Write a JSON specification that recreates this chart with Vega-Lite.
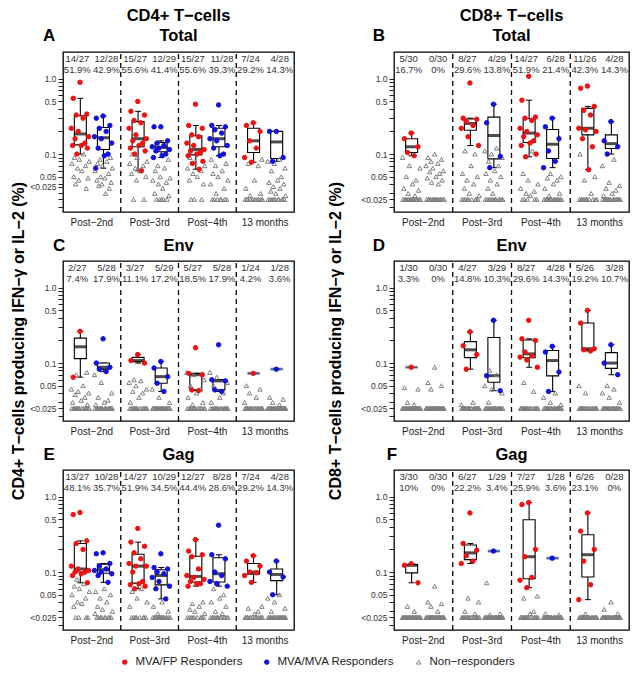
{
"$schema":"https://vega.github.io/schema/vega-lite/v6.json",
"background":"white",
"padding":{"left":10,"top":7,"right":4,"bottom":4},
"datasets":{
"L":[
{"p":"A","g":"1F","t":"14/27|51.9%"},{"p":"A","g":"1M","t":"12/28|42.9%"},{"p":"A","g":"2F","t":"15/27|55.6%"},{"p":"A","g":"2M","t":"12/29|41.4%"},{"p":"A","g":"3F","t":"15/27|55.6%"},{"p":"A","g":"3M","t":"11/28|39.3%"},{"p":"A","g":"4F","t":"7/24|29.2%"},{"p":"A","g":"4M","t":"4/28|14.3%"},
{"p":"B","g":"1F","t":"5/30|16.7%"},{"p":"B","g":"1M","t":"0/30|0%"},{"p":"B","g":"2F","t":"8/27|29.6%"},{"p":"B","g":"2M","t":"4/29|13.8%"},{"p":"B","g":"3F","t":"14/27|51.9%"},{"p":"B","g":"3M","t":"6/28|21.4%"},{"p":"B","g":"4F","t":"11/26|42.3%"},{"p":"B","g":"4M","t":"4/28|14.3%"},
{"p":"C","g":"1F","t":"2/27|7.4%"},{"p":"C","g":"1M","t":"5/28|17.9%"},{"p":"C","g":"2F","t":"3/27|11.1%"},{"p":"C","g":"2M","t":"5/29|17.2%"},{"p":"C","g":"3F","t":"5/27|18.5%"},{"p":"C","g":"3M","t":"5/28|17.9%"},{"p":"C","g":"4F","t":"1/24|4.2%"},{"p":"C","g":"4M","t":"1/28|3.6%"},
{"p":"D","g":"1F","t":"1/30|3.3%"},{"p":"D","g":"1M","t":"0/30|0%"},{"p":"D","g":"2F","t":"4/27|14.8%"},{"p":"D","g":"2M","t":"3/29|10.3%"},{"p":"D","g":"3F","t":"8/27|29.6%"},{"p":"D","g":"3M","t":"4/28|14.3%"},{"p":"D","g":"4F","t":"5/26|19.2%"},{"p":"D","g":"4M","t":"3/28|10.7%"},
{"p":"E","g":"1F","t":"13/27|48.1%"},{"p":"E","g":"1M","t":"10/28|35.7%"},{"p":"E","g":"2F","t":"14/27|51.9%"},{"p":"E","g":"2M","t":"10/29|34.5%"},{"p":"E","g":"3F","t":"12/27|44.4%"},{"p":"E","g":"3M","t":"8/28|28.6%"},{"p":"E","g":"4F","t":"7/24|29.2%"},{"p":"E","g":"4M","t":"4/28|14.3%"},
{"p":"F","g":"1F","t":"3/30|10%"},{"p":"F","g":"1M","t":"0/30|0%"},{"p":"F","g":"2F","t":"6/27|22.2%"},{"p":"F","g":"2M","t":"1/29|3.4%"},{"p":"F","g":"3F","t":"7/27|25.9%"},{"p":"F","g":"3M","t":"1/28|3.6%"},{"p":"F","g":"4F","t":"6/26|23.1%"},{"p":"F","g":"4M","t":"0/28|0%"}
],
"A":[
{"g":"1F","k":"F","v":0.9,"i":15},{"g":"1F","k":"F","v":0.55,"i":4},{"g":"1F","k":"F","v":0.34,"i":26},{"g":"1F","k":"F","v":0.33,"i":9},{"g":"1F","k":"F","v":0.3,"i":20},{"g":"1F","k":"F","v":0.22,"i":1},{"g":"1F","k":"F","v":0.2,"i":12},{"g":"1F","k":"F","v":0.17,"i":29},{"g":"1F","k":"F","v":0.16,"i":7},{"g":"1F","k":"F","v":0.14,"i":23},{"g":"1F","k":"F","v":0.13,"i":17},{"g":"1F","k":"F","v":0.13,"i":3},{"g":"1F","k":"F","v":0.12,"i":27},{"g":"1F","k":"F","v":0.1,"i":10},
{"g":"1F","k":"N","v":0.1,"i":21},{"g":"1F","k":"N","v":0.09,"i":6},{"g":"1F","k":"N","v":0.085,"i":14},{"g":"1F","k":"N","v":0.08,"i":30},{"g":"1F","k":"N","v":0.075,"i":2},{"g":"1F","k":"N","v":0.07,"i":24},{"g":"1F","k":"N","v":0.065,"i":11},{"g":"1F","k":"N","v":0.06,"i":18},{"g":"1F","k":"N","v":0.05,"i":5},{"g":"1F","k":"N","v":0.048,"i":28},{"g":"1F","k":"N","v":0.045,"i":13},{"g":"1F","k":"N","v":0.04,"i":8},{"g":"1F","k":"N","v":0.035,"i":25},
{"g":"1M","k":"M","v":0.32,"i":15},{"g":"1M","k":"M","v":0.3,"i":4},{"g":"1M","k":"M","v":0.24,"i":26},{"g":"1M","k":"M","v":0.22,"i":9},{"g":"1M","k":"M","v":0.2,"i":20},{"g":"1M","k":"M","v":0.17,"i":1},{"g":"1M","k":"M","v":0.16,"i":12},{"g":"1M","k":"M","v":0.14,"i":29},{"g":"1M","k":"M","v":0.12,"i":7},{"g":"1M","k":"M","v":0.1,"i":23},{"g":"1M","k":"M","v":0.095,"i":17},{"g":"1M","k":"M","v":0.065,"i":3},
{"g":"1M","k":"N","v":0.09,"i":27},{"g":"1M","k":"N","v":0.085,"i":10},{"g":"1M","k":"N","v":0.08,"i":21},{"g":"1M","k":"N","v":0.075,"i":6},{"g":"1M","k":"N","v":0.07,"i":14},{"g":"1M","k":"N","v":0.065,"i":30},{"g":"1M","k":"N","v":0.06,"i":2},{"g":"1M","k":"N","v":0.055,"i":24},{"g":"1M","k":"N","v":0.05,"i":11},{"g":"1M","k":"N","v":0.048,"i":18},{"g":"1M","k":"N","v":0.045,"i":5},{"g":"1M","k":"N","v":0.042,"i":28},{"g":"1M","k":"N","v":0.04,"i":13},{"g":"1M","k":"N","v":0.038,"i":8},{"g":"1M","k":"N","v":0.035,"i":25},{"g":"1M","k":"N","v":0.03,"i":19},
{"g":"2F","k":"F","v":0.5,"i":15},{"g":"2F","k":"F","v":0.37,"i":4},{"g":"2F","k":"F","v":0.33,"i":26},{"g":"2F","k":"F","v":0.28,"i":9},{"g":"2F","k":"F","v":0.26,"i":20},{"g":"2F","k":"F","v":0.22,"i":1},{"g":"2F","k":"F","v":0.18,"i":12},{"g":"2F","k":"F","v":0.16,"i":29},{"g":"2F","k":"F","v":0.15,"i":7},{"g":"2F","k":"F","v":0.14,"i":23},{"g":"2F","k":"F","v":0.13,"i":17},{"g":"2F","k":"F","v":0.12,"i":3},{"g":"2F","k":"F","v":0.11,"i":27},{"g":"2F","k":"F","v":0.1,"i":10},{"g":"2F","k":"F","v":0.06,"i":21},
{"g":"2F","k":"N","v":0.1,"i":6},{"g":"2F","k":"N","v":0.09,"i":14},{"g":"2F","k":"N","v":0.08,"i":30},{"g":"2F","k":"N","v":0.075,"i":2},{"g":"2F","k":"N","v":0.07,"i":24},{"g":"2F","k":"N","v":0.065,"i":11},{"g":"2F","k":"N","v":0.06,"i":18},{"g":"2F","k":"N","v":0.055,"i":5},{"g":"2F","k":"N","v":0.05,"i":28},{"g":"2F","k":"N","v":0.045,"i":13},{"g":"2F","k":"N","v":0.025,"i":8},{"g":"2F","k":"N","v":0.025,"i":25},
{"g":"2M","k":"M","v":0.23,"i":15},{"g":"2M","k":"M","v":0.23,"i":4},{"g":"2M","k":"M","v":0.15,"i":26},{"g":"2M","k":"M","v":0.14,"i":9},{"g":"2M","k":"M","v":0.13,"i":20},{"g":"2M","k":"M","v":0.125,"i":1},{"g":"2M","k":"M","v":0.12,"i":12},{"g":"2M","k":"M","v":0.115,"i":29},{"g":"2M","k":"M","v":0.11,"i":7},{"g":"2M","k":"M","v":0.1,"i":23},{"g":"2M","k":"M","v":0.095,"i":17},{"g":"2M","k":"M","v":0.09,"i":3},
{"g":"2M","k":"N","v":0.085,"i":27},{"g":"2M","k":"N","v":0.07,"i":10},{"g":"2M","k":"N","v":0.065,"i":21},{"g":"2M","k":"N","v":0.06,"i":6},{"g":"2M","k":"N","v":0.05,"i":14},{"g":"2M","k":"N","v":0.048,"i":30},{"g":"2M","k":"N","v":0.045,"i":2},{"g":"2M","k":"N","v":0.042,"i":24},{"g":"2M","k":"N","v":0.04,"i":11},{"g":"2M","k":"N","v":0.035,"i":18},{"g":"2M","k":"N","v":0.03,"i":5},{"g":"2M","k":"N","v":0.028,"i":28},{"g":"2M","k":"N","v":0.025,"i":13},{"g":"2M","k":"N","v":0.025,"i":8},{"g":"2M","k":"N","v":0.025,"i":25},{"g":"2M","k":"N","v":0.025,"i":19},{"g":"2M","k":"N","v":0.025,"i":16},
{"g":"3F","k":"F","v":0.46,"i":15},{"g":"3F","k":"F","v":0.24,"i":4},{"g":"3F","k":"F","v":0.22,"i":26},{"g":"3F","k":"F","v":0.18,"i":9},{"g":"3F","k":"F","v":0.17,"i":20},{"g":"3F","k":"F","v":0.14,"i":1},{"g":"3F","k":"F","v":0.13,"i":12},{"g":"3F","k":"F","v":0.115,"i":29},{"g":"3F","k":"F","v":0.11,"i":7},{"g":"3F","k":"F","v":0.105,"i":23},{"g":"3F","k":"F","v":0.1,"i":17},{"g":"3F","k":"F","v":0.095,"i":3},{"g":"3F","k":"F","v":0.08,"i":27},{"g":"3F","k":"F","v":0.075,"i":10},{"g":"3F","k":"F","v":0.063,"i":21},
{"g":"3F","k":"N","v":0.09,"i":6},{"g":"3F","k":"N","v":0.08,"i":14},{"g":"3F","k":"N","v":0.07,"i":30},{"g":"3F","k":"N","v":0.065,"i":2},{"g":"3F","k":"N","v":0.06,"i":24},{"g":"3F","k":"N","v":0.055,"i":11},{"g":"3F","k":"N","v":0.05,"i":18},{"g":"3F","k":"N","v":0.045,"i":5},{"g":"3F","k":"N","v":0.04,"i":28},{"g":"3F","k":"N","v":0.025,"i":13},{"g":"3F","k":"N","v":0.025,"i":8},{"g":"3F","k":"N","v":0.025,"i":25},
{"g":"3M","k":"M","v":0.45,"i":15},{"g":"3M","k":"M","v":0.24,"i":4},{"g":"3M","k":"M","v":0.23,"i":26},{"g":"3M","k":"M","v":0.21,"i":9},{"g":"3M","k":"M","v":0.19,"i":20},{"g":"3M","k":"M","v":0.16,"i":1},{"g":"3M","k":"M","v":0.15,"i":12},{"g":"3M","k":"M","v":0.13,"i":29},{"g":"3M","k":"M","v":0.12,"i":7},{"g":"3M","k":"M","v":0.1,"i":23},{"g":"3M","k":"M","v":0.095,"i":17},
{"g":"3M","k":"N","v":0.085,"i":3},{"g":"3M","k":"N","v":0.075,"i":27},{"g":"3M","k":"N","v":0.07,"i":10},{"g":"3M","k":"N","v":0.06,"i":21},{"g":"3M","k":"N","v":0.055,"i":6},{"g":"3M","k":"N","v":0.05,"i":14},{"g":"3M","k":"N","v":0.045,"i":30},{"g":"3M","k":"N","v":0.04,"i":2},{"g":"3M","k":"N","v":0.035,"i":24},{"g":"3M","k":"N","v":0.03,"i":11},{"g":"3M","k":"N","v":0.025,"i":18},{"g":"3M","k":"N","v":0.025,"i":5},{"g":"3M","k":"N","v":0.025,"i":28},{"g":"3M","k":"N","v":0.025,"i":13},{"g":"3M","k":"N","v":0.025,"i":8},{"g":"3M","k":"N","v":0.025,"i":25},{"g":"3M","k":"N","v":0.025,"i":19},
{"g":"4F","k":"F","v":0.26,"i":15},{"g":"4F","k":"F","v":0.24,"i":4},{"g":"4F","k":"F","v":0.2,"i":26},{"g":"4F","k":"F","v":0.15,"i":9},{"g":"4F","k":"F","v":0.12,"i":20},{"g":"4F","k":"F","v":0.09,"i":1},{"g":"4F","k":"F","v":0.078,"i":12},
{"g":"4F","k":"N","v":0.085,"i":29},{"g":"4F","k":"N","v":0.075,"i":7},{"g":"4F","k":"N","v":0.07,"i":23},{"g":"4F","k":"N","v":0.045,"i":17},{"g":"4F","k":"N","v":0.035,"i":3},{"g":"4F","k":"N","v":0.03,"i":27},{"g":"4F","k":"N","v":0.028,"i":10},{"g":"4F","k":"N","v":0.025,"i":21},{"g":"4F","k":"N","v":0.025,"i":6},{"g":"4F","k":"N","v":0.025,"i":14},{"g":"4F","k":"N","v":0.025,"i":30},{"g":"4F","k":"N","v":0.025,"i":2},{"g":"4F","k":"N","v":0.025,"i":24},{"g":"4F","k":"N","v":0.025,"i":11},{"g":"4F","k":"N","v":0.025,"i":18},{"g":"4F","k":"N","v":0.025,"i":5},{"g":"4F","k":"N","v":0.025,"i":28},
{"g":"4M","k":"M","v":0.2,"i":15},{"g":"4M","k":"M","v":0.2,"i":4},{"g":"4M","k":"M","v":0.09,"i":26},{"g":"4M","k":"M","v":0.08,"i":9},
{"g":"4M","k":"N","v":0.085,"i":20},{"g":"4M","k":"N","v":0.08,"i":1},{"g":"4M","k":"N","v":0.075,"i":12},{"g":"4M","k":"N","v":0.065,"i":29},{"g":"4M","k":"N","v":0.06,"i":7},{"g":"4M","k":"N","v":0.05,"i":23},{"g":"4M","k":"N","v":0.045,"i":17},{"g":"4M","k":"N","v":0.042,"i":3},{"g":"4M","k":"N","v":0.04,"i":27},{"g":"4M","k":"N","v":0.037,"i":10},{"g":"4M","k":"N","v":0.035,"i":21},{"g":"4M","k":"N","v":0.032,"i":6},{"g":"4M","k":"N","v":0.03,"i":14},{"g":"4M","k":"N","v":0.028,"i":30},{"g":"4M","k":"N","v":0.025,"i":2},{"g":"4M","k":"N","v":0.025,"i":24},{"g":"4M","k":"N","v":0.025,"i":11},{"g":"4M","k":"N","v":0.025,"i":18},{"g":"4M","k":"N","v":0.025,"i":5},{"g":"4M","k":"N","v":0.025,"i":28},{"g":"4M","k":"N","v":0.025,"i":13},{"g":"4M","k":"N","v":0.025,"i":8},{"g":"4M","k":"N","v":0.025,"i":25},{"g":"4M","k":"N","v":0.025,"i":19}
],
"B":[
{"g":"1F","k":"F","v":0.19,"i":15},{"g":"1F","k":"F","v":0.16,"i":4},{"g":"1F","k":"F","v":0.125,"i":26},{"g":"1F","k":"F","v":0.105,"i":9},{"g":"1F","k":"F","v":0.095,"i":20},
{"g":"1F","k":"N","v":0.09,"i":1},{"g":"1F","k":"N","v":0.07,"i":12},{"g":"1F","k":"N","v":0.065,"i":29},{"g":"1F","k":"N","v":0.05,"i":7},{"g":"1F","k":"N","v":0.045,"i":23},{"g":"1F","k":"N","v":0.04,"i":17},{"g":"1F","k":"N","v":0.035,"i":3},{"g":"1F","k":"N","v":0.033,"i":27},{"g":"1F","k":"N","v":0.03,"i":10},{"g":"1F","k":"N","v":0.028,"i":21},{"g":"1F","k":"N","v":0.025,"i":6},{"g":"1F","k":"N","v":0.025,"i":14},{"g":"1F","k":"N","v":0.025,"i":30},{"g":"1F","k":"N","v":0.025,"i":2},{"g":"1F","k":"N","v":0.025,"i":24},{"g":"1F","k":"N","v":0.025,"i":11},{"g":"1F","k":"N","v":0.025,"i":18},{"g":"1F","k":"N","v":0.025,"i":5},{"g":"1F","k":"N","v":0.025,"i":28},{"g":"1F","k":"N","v":0.025,"i":13},{"g":"1F","k":"N","v":0.025,"i":8},{"g":"1F","k":"N","v":0.025,"i":25},{"g":"1F","k":"N","v":0.025,"i":19},{"g":"1F","k":"N","v":0.025,"i":16},{"g":"1F","k":"N","v":0.025,"i":22},
{"g":"1M","k":"N","v":0.1,"i":15},{"g":"1M","k":"N","v":0.09,"i":4},{"g":"1M","k":"N","v":0.085,"i":26},{"g":"1M","k":"N","v":0.08,"i":9},{"g":"1M","k":"N","v":0.075,"i":20},{"g":"1M","k":"N","v":0.07,"i":1},{"g":"1M","k":"N","v":0.065,"i":12},{"g":"1M","k":"N","v":0.06,"i":29},{"g":"1M","k":"N","v":0.058,"i":7},{"g":"1M","k":"N","v":0.055,"i":23},{"g":"1M","k":"N","v":0.05,"i":17},{"g":"1M","k":"N","v":0.048,"i":3},{"g":"1M","k":"N","v":0.045,"i":27},{"g":"1M","k":"N","v":0.042,"i":10},{"g":"1M","k":"N","v":0.04,"i":21},{"g":"1M","k":"N","v":0.025,"i":6},{"g":"1M","k":"N","v":0.025,"i":14},{"g":"1M","k":"N","v":0.025,"i":30},{"g":"1M","k":"N","v":0.025,"i":2},{"g":"1M","k":"N","v":0.025,"i":24},{"g":"1M","k":"N","v":0.025,"i":11},{"g":"1M","k":"N","v":0.025,"i":18},{"g":"1M","k":"N","v":0.025,"i":5},{"g":"1M","k":"N","v":0.025,"i":28},{"g":"1M","k":"N","v":0.025,"i":13},{"g":"1M","k":"N","v":0.025,"i":8},{"g":"1M","k":"N","v":0.025,"i":25},{"g":"1M","k":"N","v":0.025,"i":19},{"g":"1M","k":"N","v":0.025,"i":16},{"g":"1M","k":"N","v":0.025,"i":22},
{"g":"2F","k":"F","v":0.88,"i":15},{"g":"2F","k":"F","v":0.3,"i":4},{"g":"2F","k":"F","v":0.29,"i":26},{"g":"2F","k":"F","v":0.27,"i":9},{"g":"2F","k":"F","v":0.24,"i":20},{"g":"2F","k":"F","v":0.22,"i":1},{"g":"2F","k":"F","v":0.17,"i":12},{"g":"2F","k":"F","v":0.13,"i":29},
{"g":"2F","k":"N","v":0.11,"i":7},{"g":"2F","k":"N","v":0.1,"i":23},{"g":"2F","k":"N","v":0.07,"i":17},{"g":"2F","k":"N","v":0.055,"i":3},{"g":"2F","k":"N","v":0.05,"i":27},{"g":"2F","k":"N","v":0.045,"i":10},{"g":"2F","k":"N","v":0.04,"i":21},{"g":"2F","k":"N","v":0.035,"i":6},{"g":"2F","k":"N","v":0.03,"i":14},{"g":"2F","k":"N","v":0.028,"i":30},{"g":"2F","k":"N","v":0.025,"i":2},{"g":"2F","k":"N","v":0.025,"i":24},{"g":"2F","k":"N","v":0.025,"i":11},{"g":"2F","k":"N","v":0.025,"i":18},{"g":"2F","k":"N","v":0.025,"i":5},{"g":"2F","k":"N","v":0.025,"i":28},{"g":"2F","k":"N","v":0.025,"i":13},{"g":"2F","k":"N","v":0.025,"i":8},{"g":"2F","k":"N","v":0.025,"i":25},
{"g":"2M","k":"M","v":0.46,"i":15},{"g":"2M","k":"M","v":0.26,"i":4},{"g":"2M","k":"M","v":0.093,"i":26},{"g":"2M","k":"M","v":0.066,"i":9},
{"g":"2M","k":"N","v":0.12,"i":20},{"g":"2M","k":"N","v":0.11,"i":1},{"g":"2M","k":"N","v":0.1,"i":12},{"g":"2M","k":"N","v":0.09,"i":29},{"g":"2M","k":"N","v":0.08,"i":7},{"g":"2M","k":"N","v":0.07,"i":23},{"g":"2M","k":"N","v":0.06,"i":17},{"g":"2M","k":"N","v":0.055,"i":3},{"g":"2M","k":"N","v":0.05,"i":27},{"g":"2M","k":"N","v":0.045,"i":10},{"g":"2M","k":"N","v":0.04,"i":21},{"g":"2M","k":"N","v":0.035,"i":6},{"g":"2M","k":"N","v":0.03,"i":14},{"g":"2M","k":"N","v":0.025,"i":30},{"g":"2M","k":"N","v":0.025,"i":2},{"g":"2M","k":"N","v":0.025,"i":24},{"g":"2M","k":"N","v":0.025,"i":11},{"g":"2M","k":"N","v":0.025,"i":18},{"g":"2M","k":"N","v":0.025,"i":5},{"g":"2M","k":"N","v":0.025,"i":28},{"g":"2M","k":"N","v":0.025,"i":13},{"g":"2M","k":"N","v":0.025,"i":8},{"g":"2M","k":"N","v":0.025,"i":25},{"g":"2M","k":"N","v":0.025,"i":19},{"g":"2M","k":"N","v":0.025,"i":16},
{"g":"3F","k":"F","v":1.08,"i":15},{"g":"3F","k":"F","v":0.52,"i":4},{"g":"3F","k":"F","v":0.31,"i":26},{"g":"3F","k":"F","v":0.3,"i":9},{"g":"3F","k":"F","v":0.28,"i":20},{"g":"3F","k":"F","v":0.22,"i":1},{"g":"3F","k":"F","v":0.2,"i":12},{"g":"3F","k":"F","v":0.18,"i":29},{"g":"3F","k":"F","v":0.17,"i":7},{"g":"3F","k":"F","v":0.15,"i":23},{"g":"3F","k":"F","v":0.14,"i":17},{"g":"3F","k":"F","v":0.13,"i":3},{"g":"3F","k":"F","v":0.1,"i":27},{"g":"3F","k":"F","v":0.092,"i":10},
{"g":"3F","k":"N","v":0.11,"i":21},{"g":"3F","k":"N","v":0.055,"i":6},{"g":"3F","k":"N","v":0.045,"i":14},{"g":"3F","k":"N","v":0.04,"i":30},{"g":"3F","k":"N","v":0.035,"i":2},{"g":"3F","k":"N","v":0.032,"i":24},{"g":"3F","k":"N","v":0.03,"i":11},{"g":"3F","k":"N","v":0.028,"i":18},{"g":"3F","k":"N","v":0.025,"i":5},{"g":"3F","k":"N","v":0.025,"i":28},{"g":"3F","k":"N","v":0.025,"i":13},{"g":"3F","k":"N","v":0.025,"i":8},{"g":"3F","k":"N","v":0.025,"i":25},
{"g":"3M","k":"M","v":0.3,"i":15},{"g":"3M","k":"M","v":0.23,"i":4},{"g":"3M","k":"M","v":0.16,"i":26},{"g":"3M","k":"M","v":0.11,"i":9},{"g":"3M","k":"M","v":0.08,"i":20},{"g":"3M","k":"M","v":0.066,"i":1},
{"g":"3M","k":"N","v":0.055,"i":12},{"g":"3M","k":"N","v":0.05,"i":29},{"g":"3M","k":"N","v":0.048,"i":7},{"g":"3M","k":"N","v":0.045,"i":23},{"g":"3M","k":"N","v":0.04,"i":17},{"g":"3M","k":"N","v":0.035,"i":3},{"g":"3M","k":"N","v":0.03,"i":27},{"g":"3M","k":"N","v":0.028,"i":10},{"g":"3M","k":"N","v":0.025,"i":21},{"g":"3M","k":"N","v":0.025,"i":6},{"g":"3M","k":"N","v":0.025,"i":14},{"g":"3M","k":"N","v":0.025,"i":30},{"g":"3M","k":"N","v":0.025,"i":2},{"g":"3M","k":"N","v":0.025,"i":24},{"g":"3M","k":"N","v":0.025,"i":11},{"g":"3M","k":"N","v":0.025,"i":18},{"g":"3M","k":"N","v":0.025,"i":5},{"g":"3M","k":"N","v":0.025,"i":28},{"g":"3M","k":"N","v":0.025,"i":13},{"g":"3M","k":"N","v":0.025,"i":8},{"g":"3M","k":"N","v":0.025,"i":25},{"g":"3M","k":"N","v":0.025,"i":19},
{"g":"4F","k":"F","v":0.8,"i":15},{"g":"4F","k":"F","v":0.75,"i":4},{"g":"4F","k":"F","v":0.43,"i":26},{"g":"4F","k":"F","v":0.38,"i":9},{"g":"4F","k":"F","v":0.33,"i":20},{"g":"4F","k":"F","v":0.22,"i":1},{"g":"4F","k":"F","v":0.21,"i":12},{"g":"4F","k":"F","v":0.2,"i":29},{"g":"4F","k":"F","v":0.16,"i":7},{"g":"4F","k":"F","v":0.125,"i":23},{"g":"4F","k":"F","v":0.062,"i":17},
{"g":"4F","k":"N","v":0.1,"i":3},{"g":"4F","k":"N","v":0.05,"i":27},{"g":"4F","k":"N","v":0.045,"i":10},{"g":"4F","k":"N","v":0.03,"i":21},{"g":"4F","k":"N","v":0.025,"i":6},{"g":"4F","k":"N","v":0.025,"i":14},{"g":"4F","k":"N","v":0.025,"i":30},{"g":"4F","k":"N","v":0.025,"i":2},{"g":"4F","k":"N","v":0.025,"i":24},{"g":"4F","k":"N","v":0.025,"i":11},{"g":"4F","k":"N","v":0.025,"i":18},{"g":"4F","k":"N","v":0.025,"i":5},{"g":"4F","k":"N","v":0.025,"i":28},{"g":"4F","k":"N","v":0.025,"i":13},{"g":"4F","k":"N","v":0.025,"i":8},
{"g":"4M","k":"M","v":0.27,"i":15},{"g":"4M","k":"M","v":0.15,"i":4},{"g":"4M","k":"M","v":0.125,"i":26},{"g":"4M","k":"M","v":0.1,"i":9},
{"g":"4M","k":"N","v":0.085,"i":20},{"g":"4M","k":"N","v":0.07,"i":1},{"g":"4M","k":"N","v":0.042,"i":12},{"g":"4M","k":"N","v":0.038,"i":29},{"g":"4M","k":"N","v":0.035,"i":7},{"g":"4M","k":"N","v":0.033,"i":23},{"g":"4M","k":"N","v":0.03,"i":17},{"g":"4M","k":"N","v":0.028,"i":3},{"g":"4M","k":"N","v":0.025,"i":27},{"g":"4M","k":"N","v":0.025,"i":10},{"g":"4M","k":"N","v":0.025,"i":21},{"g":"4M","k":"N","v":0.025,"i":6},{"g":"4M","k":"N","v":0.025,"i":14},{"g":"4M","k":"N","v":0.025,"i":30},{"g":"4M","k":"N","v":0.025,"i":2},{"g":"4M","k":"N","v":0.025,"i":24},{"g":"4M","k":"N","v":0.025,"i":11},{"g":"4M","k":"N","v":0.025,"i":18},{"g":"4M","k":"N","v":0.025,"i":5},{"g":"4M","k":"N","v":0.025,"i":28},{"g":"4M","k":"N","v":0.025,"i":13},{"g":"4M","k":"N","v":0.025,"i":8},{"g":"4M","k":"N","v":0.025,"i":25},{"g":"4M","k":"N","v":0.025,"i":19}
],
"C":[
{"g":"1F","k":"F","v":0.264,"i":15},{"g":"1F","k":"F","v":0.065,"i":4},
{"g":"1F","k":"N","v":0.075,"i":26},{"g":"1F","k":"N","v":0.07,"i":9},{"g":"1F","k":"N","v":0.05,"i":20},{"g":"1F","k":"N","v":0.045,"i":1},{"g":"1F","k":"N","v":0.042,"i":12},{"g":"1F","k":"N","v":0.04,"i":29},{"g":"1F","k":"N","v":0.038,"i":7},{"g":"1F","k":"N","v":0.035,"i":23},{"g":"1F","k":"N","v":0.032,"i":17},{"g":"1F","k":"N","v":0.03,"i":3},{"g":"1F","k":"N","v":0.028,"i":27},{"g":"1F","k":"N","v":0.025,"i":10},{"g":"1F","k":"N","v":0.025,"i":21},{"g":"1F","k":"N","v":0.025,"i":6},{"g":"1F","k":"N","v":0.025,"i":14},{"g":"1F","k":"N","v":0.025,"i":30},{"g":"1F","k":"N","v":0.025,"i":2},{"g":"1F","k":"N","v":0.025,"i":24},{"g":"1F","k":"N","v":0.025,"i":11},{"g":"1F","k":"N","v":0.025,"i":18},{"g":"1F","k":"N","v":0.025,"i":5},{"g":"1F","k":"N","v":0.025,"i":28},{"g":"1F","k":"N","v":0.025,"i":13},{"g":"1F","k":"N","v":0.025,"i":8},{"g":"1F","k":"N","v":0.025,"i":25},
{"g":"1M","k":"M","v":0.21,"i":15},{"g":"1M","k":"M","v":0.1,"i":4},{"g":"1M","k":"M","v":0.088,"i":26},{"g":"1M","k":"M","v":0.083,"i":9},{"g":"1M","k":"M","v":0.077,"i":20},
{"g":"1M","k":"N","v":0.07,"i":1},{"g":"1M","k":"N","v":0.055,"i":12},{"g":"1M","k":"N","v":0.04,"i":29},{"g":"1M","k":"N","v":0.035,"i":7},{"g":"1M","k":"N","v":0.032,"i":23},{"g":"1M","k":"N","v":0.03,"i":17},{"g":"1M","k":"N","v":0.028,"i":3},{"g":"1M","k":"N","v":0.025,"i":27},{"g":"1M","k":"N","v":0.025,"i":10},{"g":"1M","k":"N","v":0.025,"i":21},{"g":"1M","k":"N","v":0.025,"i":6},{"g":"1M","k":"N","v":0.025,"i":14},{"g":"1M","k":"N","v":0.025,"i":30},{"g":"1M","k":"N","v":0.025,"i":2},{"g":"1M","k":"N","v":0.025,"i":24},{"g":"1M","k":"N","v":0.025,"i":11},{"g":"1M","k":"N","v":0.025,"i":18},{"g":"1M","k":"N","v":0.025,"i":5},{"g":"1M","k":"N","v":0.025,"i":28},{"g":"1M","k":"N","v":0.025,"i":13},{"g":"1M","k":"N","v":0.025,"i":8},{"g":"1M","k":"N","v":0.025,"i":25},{"g":"1M","k":"N","v":0.025,"i":19},
{"g":"2F","k":"F","v":0.13,"i":15},{"g":"2F","k":"F","v":0.108,"i":4},{"g":"2F","k":"F","v":0.1,"i":26},
{"g":"2F","k":"N","v":0.06,"i":9},{"g":"2F","k":"N","v":0.058,"i":20},{"g":"2F","k":"N","v":0.055,"i":1},{"g":"2F","k":"N","v":0.05,"i":12},{"g":"2F","k":"N","v":0.045,"i":29},{"g":"2F","k":"N","v":0.042,"i":7},{"g":"2F","k":"N","v":0.04,"i":23},{"g":"2F","k":"N","v":0.035,"i":17},{"g":"2F","k":"N","v":0.03,"i":3},{"g":"2F","k":"N","v":0.025,"i":27},{"g":"2F","k":"N","v":0.025,"i":10},{"g":"2F","k":"N","v":0.025,"i":21},{"g":"2F","k":"N","v":0.025,"i":6},{"g":"2F","k":"N","v":0.025,"i":14},{"g":"2F","k":"N","v":0.025,"i":30},{"g":"2F","k":"N","v":0.025,"i":2},{"g":"2F","k":"N","v":0.025,"i":24},{"g":"2F","k":"N","v":0.025,"i":11},{"g":"2F","k":"N","v":0.025,"i":18},{"g":"2F","k":"N","v":0.025,"i":5},{"g":"2F","k":"N","v":0.025,"i":28},{"g":"2F","k":"N","v":0.025,"i":13},{"g":"2F","k":"N","v":0.025,"i":8},{"g":"2F","k":"N","v":0.025,"i":25},
{"g":"2M","k":"M","v":0.105,"i":15},{"g":"2M","k":"M","v":0.086,"i":4},{"g":"2M","k":"M","v":0.066,"i":26},{"g":"2M","k":"M","v":0.054,"i":9},{"g":"2M","k":"M","v":0.042,"i":20},
{"g":"2M","k":"N","v":0.045,"i":1},{"g":"2M","k":"N","v":0.035,"i":12},{"g":"2M","k":"N","v":0.03,"i":29},{"g":"2M","k":"N","v":0.025,"i":7},{"g":"2M","k":"N","v":0.025,"i":23},{"g":"2M","k":"N","v":0.025,"i":17},{"g":"2M","k":"N","v":0.025,"i":3},{"g":"2M","k":"N","v":0.025,"i":27},{"g":"2M","k":"N","v":0.025,"i":10},{"g":"2M","k":"N","v":0.025,"i":21},{"g":"2M","k":"N","v":0.025,"i":6},{"g":"2M","k":"N","v":0.025,"i":14},{"g":"2M","k":"N","v":0.025,"i":30},{"g":"2M","k":"N","v":0.025,"i":2},{"g":"2M","k":"N","v":0.025,"i":24},{"g":"2M","k":"N","v":0.025,"i":11},{"g":"2M","k":"N","v":0.025,"i":18},{"g":"2M","k":"N","v":0.025,"i":5},{"g":"2M","k":"N","v":0.025,"i":28},{"g":"2M","k":"N","v":0.025,"i":13},{"g":"2M","k":"N","v":0.025,"i":8},{"g":"2M","k":"N","v":0.025,"i":25},{"g":"2M","k":"N","v":0.025,"i":19},{"g":"2M","k":"N","v":0.025,"i":16},
{"g":"3F","k":"F","v":0.16,"i":15},{"g":"3F","k":"F","v":0.073,"i":4},{"g":"3F","k":"F","v":0.07,"i":26},{"g":"3F","k":"F","v":0.044,"i":9},{"g":"3F","k":"F","v":0.043,"i":20},
{"g":"3F","k":"N","v":0.075,"i":1},{"g":"3F","k":"N","v":0.07,"i":12},{"g":"3F","k":"N","v":0.06,"i":29},{"g":"3F","k":"N","v":0.05,"i":7},{"g":"3F","k":"N","v":0.045,"i":23},{"g":"3F","k":"N","v":0.04,"i":17},{"g":"3F","k":"N","v":0.035,"i":3},{"g":"3F","k":"N","v":0.03,"i":27},{"g":"3F","k":"N","v":0.028,"i":10},{"g":"3F","k":"N","v":0.025,"i":21},{"g":"3F","k":"N","v":0.025,"i":6},{"g":"3F","k":"N","v":0.025,"i":14},{"g":"3F","k":"N","v":0.025,"i":30},{"g":"3F","k":"N","v":0.025,"i":2},{"g":"3F","k":"N","v":0.025,"i":24},{"g":"3F","k":"N","v":0.025,"i":11},{"g":"3F","k":"N","v":0.025,"i":18},{"g":"3F","k":"N","v":0.025,"i":5},{"g":"3F","k":"N","v":0.025,"i":28},{"g":"3F","k":"N","v":0.025,"i":13},{"g":"3F","k":"N","v":0.025,"i":8},{"g":"3F","k":"N","v":0.025,"i":25},
{"g":"3M","k":"M","v":0.175,"i":15},{"g":"3M","k":"M","v":0.06,"i":4},{"g":"3M","k":"M","v":0.058,"i":26},{"g":"3M","k":"M","v":0.044,"i":9},{"g":"3M","k":"M","v":0.042,"i":20},
{"g":"3M","k":"N","v":0.075,"i":1},{"g":"3M","k":"N","v":0.065,"i":12},{"g":"3M","k":"N","v":0.055,"i":29},{"g":"3M","k":"N","v":0.05,"i":7},{"g":"3M","k":"N","v":0.04,"i":23},{"g":"3M","k":"N","v":0.035,"i":17},{"g":"3M","k":"N","v":0.03,"i":3},{"g":"3M","k":"N","v":0.025,"i":27},{"g":"3M","k":"N","v":0.025,"i":10},{"g":"3M","k":"N","v":0.025,"i":21},{"g":"3M","k":"N","v":0.025,"i":6},{"g":"3M","k":"N","v":0.025,"i":14},{"g":"3M","k":"N","v":0.025,"i":30},{"g":"3M","k":"N","v":0.025,"i":2},{"g":"3M","k":"N","v":0.025,"i":24},{"g":"3M","k":"N","v":0.025,"i":11},{"g":"3M","k":"N","v":0.025,"i":18},{"g":"3M","k":"N","v":0.025,"i":5},{"g":"3M","k":"N","v":0.025,"i":28},{"g":"3M","k":"N","v":0.025,"i":13},{"g":"3M","k":"N","v":0.025,"i":8},{"g":"3M","k":"N","v":0.025,"i":25},{"g":"3M","k":"N","v":0.025,"i":19},
{"g":"4F","k":"F","v":0.073,"i":15},
{"g":"4F","k":"N","v":0.05,"i":4},{"g":"4F","k":"N","v":0.045,"i":26},{"g":"4F","k":"N","v":0.04,"i":9},{"g":"4F","k":"N","v":0.035,"i":20},{"g":"4F","k":"N","v":0.03,"i":1},{"g":"4F","k":"N","v":0.025,"i":12},{"g":"4F","k":"N","v":0.025,"i":29},{"g":"4F","k":"N","v":0.025,"i":7},{"g":"4F","k":"N","v":0.025,"i":23},{"g":"4F","k":"N","v":0.025,"i":17},{"g":"4F","k":"N","v":0.025,"i":3},{"g":"4F","k":"N","v":0.025,"i":27},{"g":"4F","k":"N","v":0.025,"i":10},{"g":"4F","k":"N","v":0.025,"i":21},{"g":"4F","k":"N","v":0.025,"i":6},{"g":"4F","k":"N","v":0.025,"i":14},{"g":"4F","k":"N","v":0.025,"i":30},{"g":"4F","k":"N","v":0.025,"i":2},{"g":"4F","k":"N","v":0.025,"i":24},{"g":"4F","k":"N","v":0.025,"i":11},{"g":"4F","k":"N","v":0.025,"i":18},{"g":"4F","k":"N","v":0.025,"i":5},{"g":"4F","k":"N","v":0.025,"i":28},
{"g":"4M","k":"M","v":0.083,"i":15},
{"g":"4M","k":"N","v":0.035,"i":4},{"g":"4M","k":"N","v":0.033,"i":26},{"g":"4M","k":"N","v":0.03,"i":9},{"g":"4M","k":"N","v":0.028,"i":20},{"g":"4M","k":"N","v":0.025,"i":1},{"g":"4M","k":"N","v":0.025,"i":12},{"g":"4M","k":"N","v":0.025,"i":29},{"g":"4M","k":"N","v":0.025,"i":7},{"g":"4M","k":"N","v":0.025,"i":23},{"g":"4M","k":"N","v":0.025,"i":17},{"g":"4M","k":"N","v":0.025,"i":3},{"g":"4M","k":"N","v":0.025,"i":27},{"g":"4M","k":"N","v":0.025,"i":10},{"g":"4M","k":"N","v":0.025,"i":21},{"g":"4M","k":"N","v":0.025,"i":6},{"g":"4M","k":"N","v":0.025,"i":14},{"g":"4M","k":"N","v":0.025,"i":30},{"g":"4M","k":"N","v":0.025,"i":2},{"g":"4M","k":"N","v":0.025,"i":24},{"g":"4M","k":"N","v":0.025,"i":11},{"g":"4M","k":"N","v":0.025,"i":18},{"g":"4M","k":"N","v":0.025,"i":5},{"g":"4M","k":"N","v":0.025,"i":28},{"g":"4M","k":"N","v":0.025,"i":13},{"g":"4M","k":"N","v":0.025,"i":8},{"g":"4M","k":"N","v":0.025,"i":25},{"g":"4M","k":"N","v":0.025,"i":19}
],
"D":[
{"g":"1F","k":"F","v":0.088,"i":15},
{"g":"1F","k":"N","v":0.047,"i":4},{"g":"1F","k":"N","v":0.045,"i":26},{"g":"1F","k":"N","v":0.03,"i":9},{"g":"1F","k":"N","v":0.028,"i":20},{"g":"1F","k":"N","v":0.025,"i":1},{"g":"1F","k":"N","v":0.025,"i":12},{"g":"1F","k":"N","v":0.025,"i":29},{"g":"1F","k":"N","v":0.025,"i":7},{"g":"1F","k":"N","v":0.025,"i":23},{"g":"1F","k":"N","v":0.025,"i":17},{"g":"1F","k":"N","v":0.025,"i":3},{"g":"1F","k":"N","v":0.025,"i":27},{"g":"1F","k":"N","v":0.025,"i":10},{"g":"1F","k":"N","v":0.025,"i":21},{"g":"1F","k":"N","v":0.025,"i":6},{"g":"1F","k":"N","v":0.025,"i":14},{"g":"1F","k":"N","v":0.025,"i":30},{"g":"1F","k":"N","v":0.025,"i":2},{"g":"1F","k":"N","v":0.025,"i":24},{"g":"1F","k":"N","v":0.025,"i":11},{"g":"1F","k":"N","v":0.025,"i":18},{"g":"1F","k":"N","v":0.025,"i":5},{"g":"1F","k":"N","v":0.025,"i":28},{"g":"1F","k":"N","v":0.025,"i":13},{"g":"1F","k":"N","v":0.025,"i":8},{"g":"1F","k":"N","v":0.025,"i":25},{"g":"1F","k":"N","v":0.025,"i":19},{"g":"1F","k":"N","v":0.025,"i":16},{"g":"1F","k":"N","v":0.025,"i":22},
{"g":"1M","k":"N","v":0.088,"i":15},{"g":"1M","k":"N","v":0.055,"i":4},{"g":"1M","k":"N","v":0.05,"i":26},{"g":"1M","k":"N","v":0.045,"i":9},{"g":"1M","k":"N","v":0.025,"i":20},{"g":"1M","k":"N","v":0.025,"i":1},{"g":"1M","k":"N","v":0.025,"i":12},{"g":"1M","k":"N","v":0.025,"i":29},{"g":"1M","k":"N","v":0.025,"i":7},{"g":"1M","k":"N","v":0.025,"i":23},{"g":"1M","k":"N","v":0.025,"i":17},{"g":"1M","k":"N","v":0.025,"i":3},{"g":"1M","k":"N","v":0.025,"i":27},{"g":"1M","k":"N","v":0.025,"i":10},{"g":"1M","k":"N","v":0.025,"i":21},{"g":"1M","k":"N","v":0.025,"i":6},{"g":"1M","k":"N","v":0.025,"i":14},{"g":"1M","k":"N","v":0.025,"i":30},{"g":"1M","k":"N","v":0.025,"i":2},{"g":"1M","k":"N","v":0.025,"i":24},{"g":"1M","k":"N","v":0.025,"i":11},{"g":"1M","k":"N","v":0.025,"i":18},{"g":"1M","k":"N","v":0.025,"i":5},{"g":"1M","k":"N","v":0.025,"i":28},{"g":"1M","k":"N","v":0.025,"i":13},{"g":"1M","k":"N","v":0.025,"i":8},{"g":"1M","k":"N","v":0.025,"i":25},{"g":"1M","k":"N","v":0.025,"i":19},{"g":"1M","k":"N","v":0.025,"i":16},{"g":"1M","k":"N","v":0.025,"i":22},
{"g":"2F","k":"F","v":0.26,"i":15},{"g":"2F","k":"F","v":0.17,"i":4},{"g":"2F","k":"F","v":0.13,"i":26},{"g":"2F","k":"F","v":0.083,"i":9},
{"g":"2F","k":"N","v":0.03,"i":20},{"g":"2F","k":"N","v":0.028,"i":1},{"g":"2F","k":"N","v":0.025,"i":12},{"g":"2F","k":"N","v":0.025,"i":29},{"g":"2F","k":"N","v":0.025,"i":7},{"g":"2F","k":"N","v":0.025,"i":23},{"g":"2F","k":"N","v":0.025,"i":17},{"g":"2F","k":"N","v":0.025,"i":3},{"g":"2F","k":"N","v":0.025,"i":27},{"g":"2F","k":"N","v":0.025,"i":10},{"g":"2F","k":"N","v":0.025,"i":21},{"g":"2F","k":"N","v":0.025,"i":6},{"g":"2F","k":"N","v":0.025,"i":14},{"g":"2F","k":"N","v":0.025,"i":30},{"g":"2F","k":"N","v":0.025,"i":2},{"g":"2F","k":"N","v":0.025,"i":24},{"g":"2F","k":"N","v":0.025,"i":11},{"g":"2F","k":"N","v":0.025,"i":18},{"g":"2F","k":"N","v":0.025,"i":5},{"g":"2F","k":"N","v":0.025,"i":28},{"g":"2F","k":"N","v":0.025,"i":13},{"g":"2F","k":"N","v":0.025,"i":8},{"g":"2F","k":"N","v":0.025,"i":25},
{"g":"2M","k":"M","v":0.37,"i":15},{"g":"2M","k":"M","v":0.068,"i":4},{"g":"2M","k":"M","v":0.043,"i":26},
{"g":"2M","k":"N","v":0.08,"i":9},{"g":"2M","k":"N","v":0.07,"i":20},{"g":"2M","k":"N","v":0.05,"i":1},{"g":"2M","k":"N","v":0.045,"i":12},{"g":"2M","k":"N","v":0.04,"i":29},{"g":"2M","k":"N","v":0.03,"i":7},{"g":"2M","k":"N","v":0.025,"i":23},{"g":"2M","k":"N","v":0.025,"i":17},{"g":"2M","k":"N","v":0.025,"i":3},{"g":"2M","k":"N","v":0.025,"i":27},{"g":"2M","k":"N","v":0.025,"i":10},{"g":"2M","k":"N","v":0.025,"i":21},{"g":"2M","k":"N","v":0.025,"i":6},{"g":"2M","k":"N","v":0.025,"i":14},{"g":"2M","k":"N","v":0.025,"i":30},{"g":"2M","k":"N","v":0.025,"i":2},{"g":"2M","k":"N","v":0.025,"i":24},{"g":"2M","k":"N","v":0.025,"i":11},{"g":"2M","k":"N","v":0.025,"i":18},{"g":"2M","k":"N","v":0.025,"i":5},{"g":"2M","k":"N","v":0.025,"i":28},{"g":"2M","k":"N","v":0.025,"i":13},{"g":"2M","k":"N","v":0.025,"i":8},{"g":"2M","k":"N","v":0.025,"i":25},{"g":"2M","k":"N","v":0.025,"i":19},{"g":"2M","k":"N","v":0.025,"i":16},
{"g":"3F","k":"F","v":0.37,"i":15},{"g":"3F","k":"F","v":0.21,"i":4},{"g":"3F","k":"F","v":0.2,"i":26},{"g":"3F","k":"F","v":0.14,"i":9},{"g":"3F","k":"F","v":0.125,"i":20},{"g":"3F","k":"F","v":0.12,"i":1},{"g":"3F","k":"F","v":0.11,"i":12},{"g":"3F","k":"F","v":0.088,"i":29},
{"g":"3F","k":"N","v":0.055,"i":7},{"g":"3F","k":"N","v":0.042,"i":23},{"g":"3F","k":"N","v":0.025,"i":17},{"g":"3F","k":"N","v":0.025,"i":3},{"g":"3F","k":"N","v":0.025,"i":27},{"g":"3F","k":"N","v":0.025,"i":10},{"g":"3F","k":"N","v":0.025,"i":21},{"g":"3F","k":"N","v":0.025,"i":6},{"g":"3F","k":"N","v":0.025,"i":14},{"g":"3F","k":"N","v":0.025,"i":30},{"g":"3F","k":"N","v":0.025,"i":2},{"g":"3F","k":"N","v":0.025,"i":24},{"g":"3F","k":"N","v":0.025,"i":11},{"g":"3F","k":"N","v":0.025,"i":18},{"g":"3F","k":"N","v":0.025,"i":5},{"g":"3F","k":"N","v":0.025,"i":28},{"g":"3F","k":"N","v":0.025,"i":13},{"g":"3F","k":"N","v":0.025,"i":8},{"g":"3F","k":"N","v":0.025,"i":25},
{"g":"3M","k":"M","v":0.167,"i":15},{"g":"3M","k":"M","v":0.14,"i":4},{"g":"3M","k":"M","v":0.076,"i":26},{"g":"3M","k":"M","v":0.042,"i":9},
{"g":"3M","k":"N","v":0.04,"i":20},{"g":"3M","k":"N","v":0.035,"i":1},{"g":"3M","k":"N","v":0.03,"i":12},{"g":"3M","k":"N","v":0.028,"i":29},{"g":"3M","k":"N","v":0.025,"i":7},{"g":"3M","k":"N","v":0.025,"i":23},{"g":"3M","k":"N","v":0.025,"i":17},{"g":"3M","k":"N","v":0.025,"i":3},{"g":"3M","k":"N","v":0.025,"i":27},{"g":"3M","k":"N","v":0.025,"i":10},{"g":"3M","k":"N","v":0.025,"i":21},{"g":"3M","k":"N","v":0.025,"i":6},{"g":"3M","k":"N","v":0.025,"i":14},{"g":"3M","k":"N","v":0.025,"i":30},{"g":"3M","k":"N","v":0.025,"i":2},{"g":"3M","k":"N","v":0.025,"i":24},{"g":"3M","k":"N","v":0.025,"i":11},{"g":"3M","k":"N","v":0.025,"i":18},{"g":"3M","k":"N","v":0.025,"i":5},{"g":"3M","k":"N","v":0.025,"i":28},{"g":"3M","k":"N","v":0.025,"i":13},{"g":"3M","k":"N","v":0.025,"i":8},{"g":"3M","k":"N","v":0.025,"i":25},{"g":"3M","k":"N","v":0.025,"i":19},
{"g":"4F","k":"F","v":0.5,"i":15},{"g":"4F","k":"F","v":0.34,"i":4},{"g":"4F","k":"F","v":0.155,"i":26},{"g":"4F","k":"F","v":0.15,"i":9},{"g":"4F","k":"F","v":0.145,"i":20},
{"g":"4F","k":"N","v":0.05,"i":1},{"g":"4F","k":"N","v":0.04,"i":12},{"g":"4F","k":"N","v":0.025,"i":29},{"g":"4F","k":"N","v":0.025,"i":7},{"g":"4F","k":"N","v":0.025,"i":23},{"g":"4F","k":"N","v":0.025,"i":17},{"g":"4F","k":"N","v":0.025,"i":3},{"g":"4F","k":"N","v":0.025,"i":27},{"g":"4F","k":"N","v":0.025,"i":10},{"g":"4F","k":"N","v":0.025,"i":21},{"g":"4F","k":"N","v":0.025,"i":6},{"g":"4F","k":"N","v":0.025,"i":14},{"g":"4F","k":"N","v":0.025,"i":30},{"g":"4F","k":"N","v":0.025,"i":2},{"g":"4F","k":"N","v":0.025,"i":24},{"g":"4F","k":"N","v":0.025,"i":11},{"g":"4F","k":"N","v":0.025,"i":18},{"g":"4F","k":"N","v":0.025,"i":5},{"g":"4F","k":"N","v":0.025,"i":28},{"g":"4F","k":"N","v":0.025,"i":13},{"g":"4F","k":"N","v":0.025,"i":8},
{"g":"4M","k":"M","v":0.175,"i":15},{"g":"4M","k":"M","v":0.1,"i":4},{"g":"4M","k":"M","v":0.07,"i":26},
{"g":"4M","k":"N","v":0.05,"i":9},{"g":"4M","k":"N","v":0.045,"i":20},{"g":"4M","k":"N","v":0.04,"i":1},{"g":"4M","k":"N","v":0.035,"i":12},{"g":"4M","k":"N","v":0.03,"i":29},{"g":"4M","k":"N","v":0.025,"i":7},{"g":"4M","k":"N","v":0.025,"i":23},{"g":"4M","k":"N","v":0.025,"i":17},{"g":"4M","k":"N","v":0.025,"i":3},{"g":"4M","k":"N","v":0.025,"i":27},{"g":"4M","k":"N","v":0.025,"i":10},{"g":"4M","k":"N","v":0.025,"i":21},{"g":"4M","k":"N","v":0.025,"i":6},{"g":"4M","k":"N","v":0.025,"i":14},{"g":"4M","k":"N","v":0.025,"i":30},{"g":"4M","k":"N","v":0.025,"i":2},{"g":"4M","k":"N","v":0.025,"i":24},{"g":"4M","k":"N","v":0.025,"i":11},{"g":"4M","k":"N","v":0.025,"i":18},{"g":"4M","k":"N","v":0.025,"i":5},{"g":"4M","k":"N","v":0.025,"i":28},{"g":"4M","k":"N","v":0.025,"i":13},{"g":"4M","k":"N","v":0.025,"i":8},{"g":"4M","k":"N","v":0.025,"i":25},{"g":"4M","k":"N","v":0.025,"i":19}
],
"E":[
{"g":"1F","k":"F","v":0.62,"i":15},{"g":"1F","k":"F","v":0.58,"i":4},{"g":"1F","k":"F","v":0.26,"i":26},{"g":"1F","k":"F","v":0.24,"i":9},{"g":"1F","k":"F","v":0.2,"i":20},{"g":"1F","k":"F","v":0.12,"i":1},{"g":"1F","k":"F","v":0.11,"i":12},{"g":"1F","k":"F","v":0.105,"i":29},{"g":"1F","k":"F","v":0.1,"i":7},{"g":"1F","k":"F","v":0.1,"i":23},{"g":"1F","k":"F","v":0.095,"i":17},{"g":"1F","k":"F","v":0.09,"i":3},{"g":"1F","k":"F","v":0.072,"i":27},
{"g":"1F","k":"N","v":0.08,"i":10},{"g":"1F","k":"N","v":0.07,"i":21},{"g":"1F","k":"N","v":0.065,"i":6},{"g":"1F","k":"N","v":0.06,"i":14},{"g":"1F","k":"N","v":0.055,"i":30},{"g":"1F","k":"N","v":0.05,"i":2},{"g":"1F","k":"N","v":0.045,"i":24},{"g":"1F","k":"N","v":0.04,"i":11},{"g":"1F","k":"N","v":0.038,"i":18},{"g":"1F","k":"N","v":0.035,"i":5},{"g":"1F","k":"N","v":0.025,"i":28},{"g":"1F","k":"N","v":0.025,"i":13},{"g":"1F","k":"N","v":0.025,"i":8},{"g":"1F","k":"N","v":0.025,"i":25},
{"g":"1M","k":"M","v":0.18,"i":15},{"g":"1M","k":"M","v":0.175,"i":4},{"g":"1M","k":"M","v":0.13,"i":26},{"g":"1M","k":"M","v":0.12,"i":9},{"g":"1M","k":"M","v":0.11,"i":20},{"g":"1M","k":"M","v":0.105,"i":1},{"g":"1M","k":"M","v":0.1,"i":12},{"g":"1M","k":"M","v":0.095,"i":29},{"g":"1M","k":"M","v":0.09,"i":7},{"g":"1M","k":"M","v":0.073,"i":23},
{"g":"1M","k":"N","v":0.06,"i":17},{"g":"1M","k":"N","v":0.055,"i":3},{"g":"1M","k":"N","v":0.05,"i":27},{"g":"1M","k":"N","v":0.045,"i":10},{"g":"1M","k":"N","v":0.04,"i":21},{"g":"1M","k":"N","v":0.035,"i":6},{"g":"1M","k":"N","v":0.032,"i":14},{"g":"1M","k":"N","v":0.03,"i":30},{"g":"1M","k":"N","v":0.028,"i":2},{"g":"1M","k":"N","v":0.025,"i":24},{"g":"1M","k":"N","v":0.025,"i":11},{"g":"1M","k":"N","v":0.025,"i":18},{"g":"1M","k":"N","v":0.025,"i":5},{"g":"1M","k":"N","v":0.025,"i":28},{"g":"1M","k":"N","v":0.025,"i":13},{"g":"1M","k":"N","v":0.025,"i":8},{"g":"1M","k":"N","v":0.025,"i":25},{"g":"1M","k":"N","v":0.025,"i":19},
{"g":"2F","k":"F","v":0.38,"i":15},{"g":"2F","k":"F","v":0.25,"i":4},{"g":"2F","k":"F","v":0.22,"i":26},{"g":"2F","k":"F","v":0.18,"i":9},{"g":"2F","k":"F","v":0.15,"i":20},{"g":"2F","k":"F","v":0.13,"i":1},{"g":"2F","k":"F","v":0.12,"i":12},{"g":"2F","k":"F","v":0.12,"i":29},{"g":"2F","k":"F","v":0.1,"i":7},{"g":"2F","k":"F","v":0.075,"i":23},{"g":"2F","k":"F","v":0.07,"i":17},{"g":"2F","k":"F","v":0.068,"i":3},{"g":"2F","k":"F","v":0.065,"i":27},{"g":"2F","k":"F","v":0.06,"i":10},
{"g":"2F","k":"N","v":0.06,"i":21},{"g":"2F","k":"N","v":0.055,"i":6},{"g":"2F","k":"N","v":0.045,"i":14},{"g":"2F","k":"N","v":0.04,"i":30},{"g":"2F","k":"N","v":0.035,"i":2},{"g":"2F","k":"N","v":0.025,"i":24},{"g":"2F","k":"N","v":0.025,"i":11},{"g":"2F","k":"N","v":0.025,"i":18},{"g":"2F","k":"N","v":0.025,"i":5},{"g":"2F","k":"N","v":0.025,"i":28},{"g":"2F","k":"N","v":0.025,"i":13},{"g":"2F","k":"N","v":0.025,"i":8},{"g":"2F","k":"N","v":0.025,"i":25},
{"g":"2M","k":"M","v":0.175,"i":15},{"g":"2M","k":"M","v":0.115,"i":4},{"g":"2M","k":"M","v":0.11,"i":26},{"g":"2M","k":"M","v":0.1,"i":9},{"g":"2M","k":"M","v":0.095,"i":20},{"g":"2M","k":"M","v":0.085,"i":1},{"g":"2M","k":"M","v":0.075,"i":12},{"g":"2M","k":"M","v":0.065,"i":29},{"g":"2M","k":"M","v":0.06,"i":7},{"g":"2M","k":"M","v":0.044,"i":23},
{"g":"2M","k":"N","v":0.04,"i":17},{"g":"2M","k":"N","v":0.035,"i":3},{"g":"2M","k":"N","v":0.03,"i":27},{"g":"2M","k":"N","v":0.028,"i":10},{"g":"2M","k":"N","v":0.025,"i":21},{"g":"2M","k":"N","v":0.025,"i":6},{"g":"2M","k":"N","v":0.025,"i":14},{"g":"2M","k":"N","v":0.025,"i":30},{"g":"2M","k":"N","v":0.025,"i":2},{"g":"2M","k":"N","v":0.025,"i":24},{"g":"2M","k":"N","v":0.025,"i":11},{"g":"2M","k":"N","v":0.025,"i":18},{"g":"2M","k":"N","v":0.025,"i":5},{"g":"2M","k":"N","v":0.025,"i":28},{"g":"2M","k":"N","v":0.025,"i":13},{"g":"2M","k":"N","v":0.025,"i":8},{"g":"2M","k":"N","v":0.025,"i":25},{"g":"2M","k":"N","v":0.025,"i":19},{"g":"2M","k":"N","v":0.025,"i":16},
{"g":"3F","k":"F","v":0.27,"i":15},{"g":"3F","k":"F","v":0.19,"i":4},{"g":"3F","k":"F","v":0.17,"i":26},{"g":"3F","k":"F","v":0.16,"i":9},{"g":"3F","k":"F","v":0.11,"i":20},{"g":"3F","k":"F","v":0.09,"i":1},{"g":"3F","k":"F","v":0.085,"i":12},{"g":"3F","k":"F","v":0.08,"i":29},{"g":"3F","k":"F","v":0.075,"i":7},{"g":"3F","k":"F","v":0.07,"i":23},{"g":"3F","k":"F","v":0.07,"i":17},{"g":"3F","k":"F","v":0.065,"i":3},
{"g":"3F","k":"N","v":0.04,"i":27},{"g":"3F","k":"N","v":0.038,"i":10},{"g":"3F","k":"N","v":0.035,"i":21},{"g":"3F","k":"N","v":0.032,"i":6},{"g":"3F","k":"N","v":0.03,"i":14},{"g":"3F","k":"N","v":0.028,"i":30},{"g":"3F","k":"N","v":0.025,"i":2},{"g":"3F","k":"N","v":0.025,"i":24},{"g":"3F","k":"N","v":0.025,"i":11},{"g":"3F","k":"N","v":0.025,"i":18},{"g":"3F","k":"N","v":0.025,"i":5},{"g":"3F","k":"N","v":0.025,"i":28},{"g":"3F","k":"N","v":0.025,"i":13},{"g":"3F","k":"N","v":0.025,"i":8},{"g":"3F","k":"N","v":0.025,"i":25},
{"g":"3M","k":"M","v":0.42,"i":15},{"g":"3M","k":"M","v":0.17,"i":4},{"g":"3M","k":"M","v":0.15,"i":26},{"g":"3M","k":"M","v":0.1,"i":9},{"g":"3M","k":"M","v":0.09,"i":20},{"g":"3M","k":"M","v":0.075,"i":1},{"g":"3M","k":"M","v":0.07,"i":12},{"g":"3M","k":"M","v":0.065,"i":29},
{"g":"3M","k":"N","v":0.06,"i":7},{"g":"3M","k":"N","v":0.05,"i":23},{"g":"3M","k":"N","v":0.045,"i":17},{"g":"3M","k":"N","v":0.04,"i":3},{"g":"3M","k":"N","v":0.035,"i":27},{"g":"3M","k":"N","v":0.03,"i":10},{"g":"3M","k":"N","v":0.028,"i":21},{"g":"3M","k":"N","v":0.025,"i":6},{"g":"3M","k":"N","v":0.025,"i":14},{"g":"3M","k":"N","v":0.025,"i":30},{"g":"3M","k":"N","v":0.025,"i":2},{"g":"3M","k":"N","v":0.025,"i":24},{"g":"3M","k":"N","v":0.025,"i":11},{"g":"3M","k":"N","v":0.025,"i":18},{"g":"3M","k":"N","v":0.025,"i":5},{"g":"3M","k":"N","v":0.025,"i":28},{"g":"3M","k":"N","v":0.025,"i":13},{"g":"3M","k":"N","v":0.025,"i":8},{"g":"3M","k":"N","v":0.025,"i":25},{"g":"3M","k":"N","v":0.025,"i":19},
{"g":"4F","k":"F","v":0.165,"i":15},{"g":"4F","k":"F","v":0.14,"i":4},{"g":"4F","k":"F","v":0.12,"i":26},{"g":"4F","k":"F","v":0.1,"i":9},{"g":"4F","k":"F","v":0.098,"i":20},{"g":"4F","k":"F","v":0.09,"i":1},{"g":"4F","k":"F","v":0.073,"i":12},
{"g":"4F","k":"N","v":0.035,"i":29},{"g":"4F","k":"N","v":0.033,"i":7},{"g":"4F","k":"N","v":0.03,"i":23},{"g":"4F","k":"N","v":0.028,"i":17},{"g":"4F","k":"N","v":0.025,"i":3},{"g":"4F","k":"N","v":0.025,"i":27},{"g":"4F","k":"N","v":0.025,"i":10},{"g":"4F","k":"N","v":0.025,"i":21},{"g":"4F","k":"N","v":0.025,"i":6},{"g":"4F","k":"N","v":0.025,"i":14},{"g":"4F","k":"N","v":0.025,"i":30},{"g":"4F","k":"N","v":0.025,"i":2},{"g":"4F","k":"N","v":0.025,"i":24},{"g":"4F","k":"N","v":0.025,"i":11},{"g":"4F","k":"N","v":0.025,"i":18},{"g":"4F","k":"N","v":0.025,"i":5},{"g":"4F","k":"N","v":0.025,"i":28},
{"g":"4M","k":"M","v":0.14,"i":15},{"g":"4M","k":"M","v":0.1,"i":4},{"g":"4M","k":"M","v":0.086,"i":26},{"g":"4M","k":"M","v":0.05,"i":9},
{"g":"4M","k":"N","v":0.05,"i":20},{"g":"4M","k":"N","v":0.045,"i":1},{"g":"4M","k":"N","v":0.04,"i":12},{"g":"4M","k":"N","v":0.033,"i":29},{"g":"4M","k":"N","v":0.03,"i":7},{"g":"4M","k":"N","v":0.025,"i":23},{"g":"4M","k":"N","v":0.025,"i":17},{"g":"4M","k":"N","v":0.025,"i":3},{"g":"4M","k":"N","v":0.025,"i":27},{"g":"4M","k":"N","v":0.025,"i":10},{"g":"4M","k":"N","v":0.025,"i":21},{"g":"4M","k":"N","v":0.025,"i":6},{"g":"4M","k":"N","v":0.025,"i":14},{"g":"4M","k":"N","v":0.025,"i":30},{"g":"4M","k":"N","v":0.025,"i":2},{"g":"4M","k":"N","v":0.025,"i":24},{"g":"4M","k":"N","v":0.025,"i":11},{"g":"4M","k":"N","v":0.025,"i":18},{"g":"4M","k":"N","v":0.025,"i":5},{"g":"4M","k":"N","v":0.025,"i":28},{"g":"4M","k":"N","v":0.025,"i":13},{"g":"4M","k":"N","v":0.025,"i":8},{"g":"4M","k":"N","v":0.025,"i":25},{"g":"4M","k":"N","v":0.025,"i":19}
],
"F":[
{"g":"1F","k":"F","v":0.129,"i":15},{"g":"1F","k":"F","v":0.123,"i":4},{"g":"1F","k":"F","v":0.072,"i":26},
{"g":"1F","k":"N","v":0.035,"i":9},{"g":"1F","k":"N","v":0.03,"i":20},{"g":"1F","k":"N","v":0.025,"i":1},{"g":"1F","k":"N","v":0.025,"i":12},{"g":"1F","k":"N","v":0.025,"i":29},{"g":"1F","k":"N","v":0.025,"i":7},{"g":"1F","k":"N","v":0.025,"i":23},{"g":"1F","k":"N","v":0.025,"i":17},{"g":"1F","k":"N","v":0.025,"i":3},{"g":"1F","k":"N","v":0.025,"i":27},{"g":"1F","k":"N","v":0.025,"i":10},{"g":"1F","k":"N","v":0.025,"i":21},{"g":"1F","k":"N","v":0.025,"i":6},{"g":"1F","k":"N","v":0.025,"i":14},{"g":"1F","k":"N","v":0.025,"i":30},{"g":"1F","k":"N","v":0.025,"i":2},{"g":"1F","k":"N","v":0.025,"i":24},{"g":"1F","k":"N","v":0.025,"i":11},{"g":"1F","k":"N","v":0.025,"i":18},{"g":"1F","k":"N","v":0.025,"i":5},{"g":"1F","k":"N","v":0.025,"i":28},{"g":"1F","k":"N","v":0.025,"i":13},{"g":"1F","k":"N","v":0.025,"i":8},{"g":"1F","k":"N","v":0.025,"i":25},{"g":"1F","k":"N","v":0.025,"i":19},{"g":"1F","k":"N","v":0.025,"i":16},{"g":"1F","k":"N","v":0.025,"i":22},
{"g":"1M","k":"N","v":0.065,"i":15},{"g":"1M","k":"N","v":0.04,"i":4},{"g":"1M","k":"N","v":0.038,"i":26},{"g":"1M","k":"N","v":0.035,"i":9},{"g":"1M","k":"N","v":0.03,"i":20},{"g":"1M","k":"N","v":0.025,"i":1},{"g":"1M","k":"N","v":0.025,"i":12},{"g":"1M","k":"N","v":0.025,"i":29},{"g":"1M","k":"N","v":0.025,"i":7},{"g":"1M","k":"N","v":0.025,"i":23},{"g":"1M","k":"N","v":0.025,"i":17},{"g":"1M","k":"N","v":0.025,"i":3},{"g":"1M","k":"N","v":0.025,"i":27},{"g":"1M","k":"N","v":0.025,"i":10},{"g":"1M","k":"N","v":0.025,"i":21},{"g":"1M","k":"N","v":0.025,"i":6},{"g":"1M","k":"N","v":0.025,"i":14},{"g":"1M","k":"N","v":0.025,"i":30},{"g":"1M","k":"N","v":0.025,"i":2},{"g":"1M","k":"N","v":0.025,"i":24},{"g":"1M","k":"N","v":0.025,"i":11},{"g":"1M","k":"N","v":0.025,"i":18},{"g":"1M","k":"N","v":0.025,"i":5},{"g":"1M","k":"N","v":0.025,"i":28},{"g":"1M","k":"N","v":0.025,"i":13},{"g":"1M","k":"N","v":0.025,"i":8},{"g":"1M","k":"N","v":0.025,"i":25},{"g":"1M","k":"N","v":0.025,"i":19},{"g":"1M","k":"N","v":0.025,"i":16},{"g":"1M","k":"N","v":0.025,"i":22},
{"g":"2F","k":"F","v":0.61,"i":15},{"g":"2F","k":"F","v":0.24,"i":4},{"g":"2F","k":"F","v":0.195,"i":26},{"g":"2F","k":"F","v":0.165,"i":9},{"g":"2F","k":"F","v":0.14,"i":20},{"g":"2F","k":"F","v":0.13,"i":1},
{"g":"2F","k":"N","v":0.045,"i":12},{"g":"2F","k":"N","v":0.04,"i":29},{"g":"2F","k":"N","v":0.03,"i":7},{"g":"2F","k":"N","v":0.028,"i":23},{"g":"2F","k":"N","v":0.025,"i":17},{"g":"2F","k":"N","v":0.025,"i":3},{"g":"2F","k":"N","v":0.025,"i":27},{"g":"2F","k":"N","v":0.025,"i":10},{"g":"2F","k":"N","v":0.025,"i":21},{"g":"2F","k":"N","v":0.025,"i":6},{"g":"2F","k":"N","v":0.025,"i":14},{"g":"2F","k":"N","v":0.025,"i":30},{"g":"2F","k":"N","v":0.025,"i":2},{"g":"2F","k":"N","v":0.025,"i":24},{"g":"2F","k":"N","v":0.025,"i":11},{"g":"2F","k":"N","v":0.025,"i":18},{"g":"2F","k":"N","v":0.025,"i":5},{"g":"2F","k":"N","v":0.025,"i":28},{"g":"2F","k":"N","v":0.025,"i":13},{"g":"2F","k":"N","v":0.025,"i":8},{"g":"2F","k":"N","v":0.025,"i":25},
{"g":"2M","k":"M","v":0.19,"i":15},
{"g":"2M","k":"N","v":0.072,"i":4},{"g":"2M","k":"N","v":0.028,"i":26},{"g":"2M","k":"N","v":0.027,"i":9},{"g":"2M","k":"N","v":0.025,"i":20},{"g":"2M","k":"N","v":0.025,"i":1},{"g":"2M","k":"N","v":0.025,"i":12},{"g":"2M","k":"N","v":0.025,"i":29},{"g":"2M","k":"N","v":0.025,"i":7},{"g":"2M","k":"N","v":0.025,"i":23},{"g":"2M","k":"N","v":0.025,"i":17},{"g":"2M","k":"N","v":0.025,"i":3},{"g":"2M","k":"N","v":0.025,"i":27},{"g":"2M","k":"N","v":0.025,"i":10},{"g":"2M","k":"N","v":0.025,"i":21},{"g":"2M","k":"N","v":0.025,"i":6},{"g":"2M","k":"N","v":0.025,"i":14},{"g":"2M","k":"N","v":0.025,"i":30},{"g":"2M","k":"N","v":0.025,"i":2},{"g":"2M","k":"N","v":0.025,"i":24},{"g":"2M","k":"N","v":0.025,"i":11},{"g":"2M","k":"N","v":0.025,"i":18},{"g":"2M","k":"N","v":0.025,"i":5},{"g":"2M","k":"N","v":0.025,"i":28},{"g":"2M","k":"N","v":0.025,"i":13},{"g":"2M","k":"N","v":0.025,"i":8},{"g":"2M","k":"N","v":0.025,"i":25},{"g":"2M","k":"N","v":0.025,"i":19},{"g":"2M","k":"N","v":0.025,"i":16},
{"g":"3F","k":"F","v":0.84,"i":15},{"g":"3F","k":"F","v":0.79,"i":4},{"g":"3F","k":"F","v":0.2,"i":26},{"g":"3F","k":"F","v":0.16,"i":9},{"g":"3F","k":"F","v":0.085,"i":20},{"g":"3F","k":"F","v":0.078,"i":1},{"g":"3F","k":"F","v":0.062,"i":12},
{"g":"3F","k":"N","v":0.048,"i":29},{"g":"3F","k":"N","v":0.045,"i":7},{"g":"3F","k":"N","v":0.03,"i":23},{"g":"3F","k":"N","v":0.028,"i":17},{"g":"3F","k":"N","v":0.025,"i":3},{"g":"3F","k":"N","v":0.025,"i":27},{"g":"3F","k":"N","v":0.025,"i":10},{"g":"3F","k":"N","v":0.025,"i":21},{"g":"3F","k":"N","v":0.025,"i":6},{"g":"3F","k":"N","v":0.025,"i":14},{"g":"3F","k":"N","v":0.025,"i":30},{"g":"3F","k":"N","v":0.025,"i":2},{"g":"3F","k":"N","v":0.025,"i":24},{"g":"3F","k":"N","v":0.025,"i":11},{"g":"3F","k":"N","v":0.025,"i":18},{"g":"3F","k":"N","v":0.025,"i":5},{"g":"3F","k":"N","v":0.025,"i":28},{"g":"3F","k":"N","v":0.025,"i":13},{"g":"3F","k":"N","v":0.025,"i":8},{"g":"3F","k":"N","v":0.025,"i":25},
{"g":"3M","k":"M","v":0.153,"i":15},
{"g":"3M","k":"N","v":0.028,"i":4},{"g":"3M","k":"N","v":0.027,"i":26},{"g":"3M","k":"N","v":0.025,"i":9},{"g":"3M","k":"N","v":0.025,"i":20},{"g":"3M","k":"N","v":0.025,"i":1},{"g":"3M","k":"N","v":0.025,"i":12},{"g":"3M","k":"N","v":0.025,"i":29},{"g":"3M","k":"N","v":0.025,"i":7},{"g":"3M","k":"N","v":0.025,"i":23},{"g":"3M","k":"N","v":0.025,"i":17},{"g":"3M","k":"N","v":0.025,"i":3},{"g":"3M","k":"N","v":0.025,"i":27},{"g":"3M","k":"N","v":0.025,"i":10},{"g":"3M","k":"N","v":0.025,"i":21},{"g":"3M","k":"N","v":0.025,"i":6},{"g":"3M","k":"N","v":0.025,"i":14},{"g":"3M","k":"N","v":0.025,"i":30},{"g":"3M","k":"N","v":0.025,"i":2},{"g":"3M","k":"N","v":0.025,"i":24},{"g":"3M","k":"N","v":0.025,"i":11},{"g":"3M","k":"N","v":0.025,"i":18},{"g":"3M","k":"N","v":0.025,"i":5},{"g":"3M","k":"N","v":0.025,"i":28},{"g":"3M","k":"N","v":0.025,"i":13},{"g":"3M","k":"N","v":0.025,"i":8},{"g":"3M","k":"N","v":0.025,"i":25},{"g":"3M","k":"N","v":0.025,"i":19},
{"g":"4F","k":"F","v":0.61,"i":15},{"g":"4F","k":"F","v":0.35,"i":4},{"g":"4F","k":"F","v":0.2,"i":26},{"g":"4F","k":"F","v":0.14,"i":9},{"g":"4F","k":"F","v":0.068,"i":20},{"g":"4F","k":"F","v":0.043,"i":1},
{"g":"4F","k":"N","v":0.028,"i":12},{"g":"4F","k":"N","v":0.025,"i":29},{"g":"4F","k":"N","v":0.025,"i":7},{"g":"4F","k":"N","v":0.025,"i":23},{"g":"4F","k":"N","v":0.025,"i":17},{"g":"4F","k":"N","v":0.025,"i":3},{"g":"4F","k":"N","v":0.025,"i":27},{"g":"4F","k":"N","v":0.025,"i":10},{"g":"4F","k":"N","v":0.025,"i":21},{"g":"4F","k":"N","v":0.025,"i":6},{"g":"4F","k":"N","v":0.025,"i":14},{"g":"4F","k":"N","v":0.025,"i":30},{"g":"4F","k":"N","v":0.025,"i":2},{"g":"4F","k":"N","v":0.025,"i":24},{"g":"4F","k":"N","v":0.025,"i":11},{"g":"4F","k":"N","v":0.025,"i":18},{"g":"4F","k":"N","v":0.025,"i":5},{"g":"4F","k":"N","v":0.025,"i":28},{"g":"4F","k":"N","v":0.025,"i":13},{"g":"4F","k":"N","v":0.025,"i":8},
{"g":"4M","k":"N","v":0.04,"i":15},{"g":"4M","k":"N","v":0.032,"i":4},{"g":"4M","k":"N","v":0.028,"i":26},{"g":"4M","k":"N","v":0.025,"i":9},{"g":"4M","k":"N","v":0.025,"i":20},{"g":"4M","k":"N","v":0.025,"i":1},{"g":"4M","k":"N","v":0.025,"i":12},{"g":"4M","k":"N","v":0.025,"i":29},{"g":"4M","k":"N","v":0.025,"i":7},{"g":"4M","k":"N","v":0.025,"i":23},{"g":"4M","k":"N","v":0.025,"i":17},{"g":"4M","k":"N","v":0.025,"i":3},{"g":"4M","k":"N","v":0.025,"i":27},{"g":"4M","k":"N","v":0.025,"i":10},{"g":"4M","k":"N","v":0.025,"i":21},{"g":"4M","k":"N","v":0.025,"i":6},{"g":"4M","k":"N","v":0.025,"i":14},{"g":"4M","k":"N","v":0.025,"i":30},{"g":"4M","k":"N","v":0.025,"i":2},{"g":"4M","k":"N","v":0.025,"i":24},{"g":"4M","k":"N","v":0.025,"i":11},{"g":"4M","k":"N","v":0.025,"i":18},{"g":"4M","k":"N","v":0.025,"i":5},{"g":"4M","k":"N","v":0.025,"i":28},{"g":"4M","k":"N","v":0.025,"i":13},{"g":"4M","k":"N","v":0.025,"i":8},{"g":"4M","k":"N","v":0.025,"i":25},{"g":"4M","k":"N","v":0.025,"i":19}
]
},
"columns":2,
"bounds":"flush",
"align":"each",
"spacing":{"row":49,"column":100},
"concat":[
{"width":231,"height":160,"resolve":{"scale":{"x":"independent"}},
 "layer":[
  {"data":{"values":[{"g":"2a"},{"g":"3a"},{"g":"4a"}]},"mark":{"type":"rule","strokeDash":[5,4],"strokeWidth":1.3,"color":"black"},"encoding":{"x":{"field":"g","type":"nominal","bandPosition":0,"scale":{"type":"band","domain":["1a","1F","1b","1M","1c","2a","2F","2b","2M","2c","3a","3F","3b","3M","3c","4a","4F","4b","4M","4c"],"paddingInner":0,"paddingOuter":0},"axis":null},"y":{"datum":0.017,"type":"quantitative"},"y2":{"datum":2.27}}},
  {"data":{"name":"A"},"transform":[{"filter":"datum.k!='N'"}],"mark":{"type":"boxplot","extent":1.5,"size":12,"outliers":false,"box":{"fill":"white","stroke":"black","strokeWidth":1.1},"median":{"color":"black","thickness":3},"rule":{"color":"black","strokeWidth":1.1},"ticks":{"color":"black","size":6}},
   "encoding":{"x":{"field":"g","type":"nominal","scale":{"type":"band","domain":["1a","1F","1b","1M","1c","2a","2F","2b","2M","2c","3a","3F","3b","3M","3c","4a","4F","4b","4M","4c"],"paddingInner":0,"paddingOuter":0},"axis":{"title":null,"ticks":false,"domain":false,"labelAngle":0,"labelFontSize":10,"labelPadding":5,"labelOverlap":false,"labelColor":"#222","labelExpr":"datum.value=='1b'?'Post−2nd':datum.value=='2b'?'Post−3rd':datum.value=='3b'?'Post−4th':datum.value=='4b'?'13 months':''"}},
    "y":{"field":"v","type":"quantitative","scale":{"type":"log","domain":[0.017,2.27],"nice":false},"axis":{"title":null,"values":[0.02,0.025,0.03,0.037,0.04,0.05,0.06,0.07,0.08,0.09,0.1,0.2,0.3,0.4,0.5,0.6,0.7,0.8,0.9,1],"labelExpr":"datum.value==1?'1.0':datum.value==0.5?'0.5':datum.value==0.1?'0.1':datum.value==0.05?'0.05':datum.value==0.037?'<0.025':''","labelFontSize":8.5,"labelColor":"#333","tickSize":5,"tickColor":"#222","labelPadding":2,"labelOverlap":false}}}},
  {"data":{"name":"A"},"mark":{"type":"point","filled":true,"strokeWidth":1,"opacity":1},
   "encoding":{"x":{"field":"g","type":"nominal","scale":{"type":"band","domain":["1a","1F","1b","1M","1c","2a","2F","2b","2M","2c","3a","3F","3b","3M","3c","4a","4F","4b","4M","4c"],"paddingInner":0,"paddingOuter":0},"axis":null},
    "y":{"field":"v","type":"quantitative","scale":{"type":"log","domain":[0.017,2.27],"nice":false}},
    "xOffset":{"field":"i","type":"ordinal","scale":{"domain":[1,2,3,4,5,6,7,8,9,10,11,12,13,14,15,16,17,18,19,20,21,22,23,24,25,26,27,28,29,30],"range":[-3.5,15]}},
    "fill":{"field":"k","type":"nominal","scale":{"domain":["F","M","N"],"range":["#ee1111","#1111dd","transparent"]},"legend":{"title":null,"orient":"none","legendX":56,"legendY":604,"direction":"horizontal","labelExpr":"datum.label=='F'?'MVA/FP Responders':datum.label=='M'?'MVA/MVA Responders':'Non−responders'","labelFontSize":11.5,"labelColor":"#222","symbolStrokeWidth":1,"columnPadding":18,"labelOffset":5}},
    "stroke":{"field":"k","type":"nominal","scale":{"domain":["F","M","N"],"range":["#ee1111","#1111dd","#7f7f7f"]},"legend":{"title":null,"orient":"none","legendX":56,"legendY":604,"direction":"horizontal","labelExpr":"datum.label=='F'?'MVA/FP Responders':datum.label=='M'?'MVA/MVA Responders':'Non−responders'","labelFontSize":11.5,"labelColor":"#222","symbolStrokeWidth":1,"columnPadding":18,"labelOffset":5}},
    "shape":{"field":"k","type":"nominal","scale":{"domain":["F","M","N"],"range":["circle","circle","triangle-up"]},"legend":{"title":null,"orient":"none","legendX":56,"legendY":604,"direction":"horizontal","labelExpr":"datum.label=='F'?'MVA/FP Responders':datum.label=='M'?'MVA/MVA Responders':'Non−responders'","labelFontSize":11.5,"labelColor":"#222","symbolStrokeWidth":1,"columnPadding":18,"labelOffset":5}},
    "size":{"field":"k","type":"ordinal","scale":{"domain":["F","M","N"],"range":[20,20,30]},"legend":{"title":null,"orient":"none","legendX":56,"legendY":604,"direction":"horizontal","labelExpr":"datum.label=='F'?'MVA/FP Responders':datum.label=='M'?'MVA/MVA Responders':'Non−responders'","labelFontSize":11.5,"labelColor":"#222","symbolStrokeWidth":1,"columnPadding":18,"labelOffset":5}},
    "order":{"field":"k","type":"ordinal","sort":"descending"}}},
  {"data":{"name":"L"},"transform":[{"filter":"datum.p=='A'&&indexof(datum.g,'F')>=0"}],"mark":{"type":"text","fontSize":9.5,"lineBreak":"|","baseline":"top","lineHeight":11,"color":"#333","dx":-3},"encoding":{"x":{"field":"g","type":"nominal","scale":{"type":"band","domain":["1a","1F","1b","1M","1c","2a","2F","2b","2M","2c","3a","3F","3b","3M","3c","4a","4F","4b","4M","4c"],"paddingInner":0,"paddingOuter":0},"axis":null},"y":{"datum":2.15,"type":"quantitative"},"text":{"field":"t"}}},
  {"data":{"name":"L"},"transform":[{"filter":"datum.p=='A'&&indexof(datum.g,'M')>=0"}],"mark":{"type":"text","fontSize":9.5,"lineBreak":"|","baseline":"top","lineHeight":11,"color":"#333","dx":3},"encoding":{"x":{"field":"g","type":"nominal","scale":{"type":"band","domain":["1a","1F","1b","1M","1c","2a","2F","2b","2M","2c","3a","3F","3b","3M","3c","4a","4F","4b","4M","4c"],"paddingInner":0,"paddingOuter":0},"axis":null},"y":{"datum":2.15,"type":"quantitative"},"text":{"field":"t"}}},
  {"data":{"values":[{}]},"mark":{"type":"text","text":"A","fontSize":17,"fontWeight":"bold","baseline":"middle","color":"black"},"encoding":{"x":{"datum":-0.06,"type":"quantitative","scale":{"domain":[0,1]},"axis":null},"y":{"datum":3.7,"type":"quantitative"}}},
  {"data":{"values":[{}]},"mark":{"type":"text","text":"Total","fontSize":16.5,"fontWeight":"bold","baseline":"middle","color":"black"},"encoding":{"x":{"datum":0.5,"type":"quantitative","scale":{"domain":[0,1]},"axis":null},"y":{"datum":3.7,"type":"quantitative"}}},
  {"data":{"values":[{}]},"mark":{"type":"text","text":"CD4+ T−cells","fontSize":16.5,"fontWeight":"bold","baseline":"middle","color":"black"},"encoding":{"x":{"datum":0.5,"type":"quantitative","scale":{"domain":[0,1]},"axis":null},"y":{"datum":6.8,"type":"quantitative"}}}
 ]},
{"width":235,"height":160,"resolve":{"scale":{"x":"independent"}},
 "layer":[
  {"data":{"values":[{"g":"2a"},{"g":"3a"},{"g":"4a"}]},"mark":{"type":"rule","strokeDash":[5,4],"strokeWidth":1.3,"color":"black"},"encoding":{"x":{"field":"g","type":"nominal","bandPosition":0,"scale":{"type":"band","domain":["1a","1F","1b","1M","1c","2a","2F","2b","2M","2c","3a","3F","3b","3M","3c","4a","4F","4b","4M","4c"],"paddingInner":0,"paddingOuter":0},"axis":null},"y":{"datum":0.017,"type":"quantitative"},"y2":{"datum":2.27}}},
  {"data":{"name":"B"},"transform":[{"filter":"datum.k!='N'"}],"mark":{"type":"boxplot","extent":1.5,"size":12,"outliers":false,"box":{"fill":"white","stroke":"black","strokeWidth":1.1},"median":{"color":"black","thickness":3},"rule":{"color":"black","strokeWidth":1.1},"ticks":{"color":"black","size":6}},
   "encoding":{"x":{"field":"g","type":"nominal","scale":{"type":"band","domain":["1a","1F","1b","1M","1c","2a","2F","2b","2M","2c","3a","3F","3b","3M","3c","4a","4F","4b","4M","4c"],"paddingInner":0,"paddingOuter":0},"axis":{"title":null,"ticks":false,"domain":false,"labelAngle":0,"labelFontSize":10,"labelPadding":5,"labelOverlap":false,"labelColor":"#222","labelExpr":"datum.value=='1b'?'Post−2nd':datum.value=='2b'?'Post−3rd':datum.value=='3b'?'Post−4th':datum.value=='4b'?'13 months':''"}},
    "y":{"field":"v","type":"quantitative","scale":{"type":"log","domain":[0.017,2.27],"nice":false},"axis":{"title":null,"values":[0.02,0.025,0.03,0.04,0.05,0.06,0.07,0.08,0.09,0.1,0.2,0.3,0.4,0.5,0.6,0.7,0.8,0.9,1],"labelExpr":"datum.value==1?'1.0':datum.value==0.5?'0.5':datum.value==0.1?'0.1':datum.value==0.05?'0.05':datum.value==0.025?'<0.025':''","labelFontSize":8.5,"labelColor":"#333","tickSize":5,"tickColor":"#222","labelPadding":2,"labelOverlap":false}}}},
  {"data":{"name":"B"},"mark":{"type":"point","filled":true,"strokeWidth":1,"opacity":1},
   "encoding":{"x":{"field":"g","type":"nominal","scale":{"type":"band","domain":["1a","1F","1b","1M","1c","2a","2F","2b","2M","2c","3a","3F","3b","3M","3c","4a","4F","4b","4M","4c"],"paddingInner":0,"paddingOuter":0},"axis":null},
    "y":{"field":"v","type":"quantitative","scale":{"type":"log","domain":[0.017,2.27],"nice":false}},
    "xOffset":{"field":"i","type":"ordinal","scale":{"domain":[1,2,3,4,5,6,7,8,9,10,11,12,13,14,15,16,17,18,19,20,21,22,23,24,25,26,27,28,29,30],"range":[-3.5,15]}},
    "fill":{"field":"k","type":"nominal","scale":{"domain":["F","M","N"],"range":["#ee1111","#1111dd","transparent"]}},
    "stroke":{"field":"k","type":"nominal","scale":{"domain":["F","M","N"],"range":["#ee1111","#1111dd","#7f7f7f"]}},
    "shape":{"field":"k","type":"nominal","scale":{"domain":["F","M","N"],"range":["circle","circle","triangle-up"]}},
    "size":{"field":"k","type":"ordinal","scale":{"domain":["F","M","N"],"range":[20,20,30]}},
    "order":{"field":"k","type":"ordinal","sort":"descending"}}},
  {"data":{"name":"L"},"transform":[{"filter":"datum.p=='B'&&indexof(datum.g,'F')>=0"}],"mark":{"type":"text","fontSize":9.5,"lineBreak":"|","baseline":"top","lineHeight":11,"color":"#333","dx":-3},"encoding":{"x":{"field":"g","type":"nominal","scale":{"type":"band","domain":["1a","1F","1b","1M","1c","2a","2F","2b","2M","2c","3a","3F","3b","3M","3c","4a","4F","4b","4M","4c"],"paddingInner":0,"paddingOuter":0},"axis":null},"y":{"datum":2.15,"type":"quantitative"},"text":{"field":"t"}}},
  {"data":{"name":"L"},"transform":[{"filter":"datum.p=='B'&&indexof(datum.g,'M')>=0"}],"mark":{"type":"text","fontSize":9.5,"lineBreak":"|","baseline":"top","lineHeight":11,"color":"#333","dx":3},"encoding":{"x":{"field":"g","type":"nominal","scale":{"type":"band","domain":["1a","1F","1b","1M","1c","2a","2F","2b","2M","2c","3a","3F","3b","3M","3c","4a","4F","4b","4M","4c"],"paddingInner":0,"paddingOuter":0},"axis":null},"y":{"datum":2.15,"type":"quantitative"},"text":{"field":"t"}}},
  {"data":{"values":[{}]},"mark":{"type":"text","text":"B","fontSize":17,"fontWeight":"bold","baseline":"middle","color":"black"},"encoding":{"x":{"datum":-0.064,"type":"quantitative","scale":{"domain":[0,1]},"axis":null},"y":{"datum":3.7,"type":"quantitative"}}},
  {"data":{"values":[{}]},"mark":{"type":"text","text":"Total","fontSize":16.5,"fontWeight":"bold","baseline":"middle","color":"black"},"encoding":{"x":{"datum":0.5,"type":"quantitative","scale":{"domain":[0,1]},"axis":null},"y":{"datum":3.7,"type":"quantitative"}}},
  {"data":{"values":[{}]},"mark":{"type":"text","text":"CD8+ T−cells","fontSize":16.5,"fontWeight":"bold","baseline":"middle","color":"black"},"encoding":{"x":{"datum":0.5,"type":"quantitative","scale":{"domain":[0,1]},"axis":null},"y":{"datum":6.8,"type":"quantitative"}}}
 ]},
{"width":231,"height":160,"resolve":{"scale":{"x":"independent"}},
 "layer":[
  {"data":{"values":[{"g":"2a"},{"g":"3a"},{"g":"4a"}]},"mark":{"type":"rule","strokeDash":[5,4],"strokeWidth":1.3,"color":"black"},"encoding":{"x":{"field":"g","type":"nominal","bandPosition":0,"scale":{"type":"band","domain":["1a","1F","1b","1M","1c","2a","2F","2b","2M","2c","3a","3F","3b","3M","3c","4a","4F","4b","4M","4c"],"paddingInner":0,"paddingOuter":0},"axis":null},"y":{"datum":0.017,"type":"quantitative"},"y2":{"datum":2.27}}},
  {"data":{"name":"C"},"transform":[{"filter":"datum.k!='N'"}],"mark":{"type":"boxplot","extent":1.5,"size":12,"outliers":false,"box":{"fill":"white","stroke":"black","strokeWidth":1.1},"median":{"color":"black","thickness":3},"rule":{"color":"black","strokeWidth":1.1},"ticks":{"color":"black","size":6}},
   "encoding":{"x":{"field":"g","type":"nominal","scale":{"type":"band","domain":["1a","1F","1b","1M","1c","2a","2F","2b","2M","2c","3a","3F","3b","3M","3c","4a","4F","4b","4M","4c"],"paddingInner":0,"paddingOuter":0},"axis":{"title":null,"ticks":false,"domain":false,"labelAngle":0,"labelFontSize":10,"labelPadding":5,"labelOverlap":false,"labelColor":"#222","labelExpr":"datum.value=='1b'?'Post−2nd':datum.value=='2b'?'Post−3rd':datum.value=='3b'?'Post−4th':datum.value=='4b'?'13 months':''"}},
    "y":{"field":"v","type":"quantitative","scale":{"type":"log","domain":[0.017,2.27],"nice":false},"axis":{"title":null,"values":[0.02,0.025,0.03,0.04,0.05,0.06,0.07,0.08,0.09,0.1,0.2,0.3,0.4,0.5,0.6,0.7,0.8,0.9,1],"labelExpr":"datum.value==1?'1.0':datum.value==0.5?'0.5':datum.value==0.1?'0.1':datum.value==0.05?'0.05':datum.value==0.025?'<0.025':''","labelFontSize":8.5,"labelColor":"#333","tickSize":5,"tickColor":"#222","labelPadding":2,"labelOverlap":false}}}},
  {"data":{"name":"C"},"mark":{"type":"point","filled":true,"strokeWidth":1,"opacity":1},
   "encoding":{"x":{"field":"g","type":"nominal","scale":{"type":"band","domain":["1a","1F","1b","1M","1c","2a","2F","2b","2M","2c","3a","3F","3b","3M","3c","4a","4F","4b","4M","4c"],"paddingInner":0,"paddingOuter":0},"axis":null},
    "y":{"field":"v","type":"quantitative","scale":{"type":"log","domain":[0.017,2.27],"nice":false}},
    "xOffset":{"field":"i","type":"ordinal","scale":{"domain":[1,2,3,4,5,6,7,8,9,10,11,12,13,14,15,16,17,18,19,20,21,22,23,24,25,26,27,28,29,30],"range":[-3.5,15]}},
    "fill":{"field":"k","type":"nominal","scale":{"domain":["F","M","N"],"range":["#ee1111","#1111dd","transparent"]}},
    "stroke":{"field":"k","type":"nominal","scale":{"domain":["F","M","N"],"range":["#ee1111","#1111dd","#7f7f7f"]}},
    "shape":{"field":"k","type":"nominal","scale":{"domain":["F","M","N"],"range":["circle","circle","triangle-up"]}},
    "size":{"field":"k","type":"ordinal","scale":{"domain":["F","M","N"],"range":[20,20,30]}},
    "order":{"field":"k","type":"ordinal","sort":"descending"}}},
  {"data":{"name":"L"},"transform":[{"filter":"datum.p=='C'&&indexof(datum.g,'F')>=0"}],"mark":{"type":"text","fontSize":9.5,"lineBreak":"|","baseline":"top","lineHeight":11,"color":"#333","dx":-3},"encoding":{"x":{"field":"g","type":"nominal","scale":{"type":"band","domain":["1a","1F","1b","1M","1c","2a","2F","2b","2M","2c","3a","3F","3b","3M","3c","4a","4F","4b","4M","4c"],"paddingInner":0,"paddingOuter":0},"axis":null},"y":{"datum":2.15,"type":"quantitative"},"text":{"field":"t"}}},
  {"data":{"name":"L"},"transform":[{"filter":"datum.p=='C'&&indexof(datum.g,'M')>=0"}],"mark":{"type":"text","fontSize":9.5,"lineBreak":"|","baseline":"top","lineHeight":11,"color":"#333","dx":3},"encoding":{"x":{"field":"g","type":"nominal","scale":{"type":"band","domain":["1a","1F","1b","1M","1c","2a","2F","2b","2M","2c","3a","3F","3b","3M","3c","4a","4F","4b","4M","4c"],"paddingInner":0,"paddingOuter":0},"axis":null},"y":{"datum":2.15,"type":"quantitative"},"text":{"field":"t"}}},
  {"data":{"values":[{}]},"mark":{"type":"text","text":"C","fontSize":17,"fontWeight":"bold","baseline":"middle","color":"black"},"encoding":{"x":{"datum":-0.017,"type":"quantitative","scale":{"domain":[0,1]},"axis":null},"y":{"datum":3.6,"type":"quantitative"}}},
  {"data":{"values":[{}]},"mark":{"type":"text","text":"Env","fontSize":16.5,"fontWeight":"bold","baseline":"middle","color":"black"},"encoding":{"x":{"datum":0.5,"type":"quantitative","scale":{"domain":[0,1]},"axis":null},"y":{"datum":3.6,"type":"quantitative"}}},
  {"data":{"values":[{}]},"mark":{"type":"text","text":"CD4+ T−cells producing IFN−γ or IL−2 (%)","angle":270,"fontSize":16,"fontWeight":"bold","baseline":"middle","align":"center","color":"black"},"encoding":{"x":{"datum":-0.19,"type":"quantitative","scale":{"domain":[0,1]},"axis":null},"y":{"datum":0.1964,"type":"quantitative"}}}
 ]},
{"width":235,"height":160,"resolve":{"scale":{"x":"independent"}},
 "layer":[
  {"data":{"values":[{"g":"2a"},{"g":"3a"},{"g":"4a"}]},"mark":{"type":"rule","strokeDash":[5,4],"strokeWidth":1.3,"color":"black"},"encoding":{"x":{"field":"g","type":"nominal","bandPosition":0,"scale":{"type":"band","domain":["1a","1F","1b","1M","1c","2a","2F","2b","2M","2c","3a","3F","3b","3M","3c","4a","4F","4b","4M","4c"],"paddingInner":0,"paddingOuter":0},"axis":null},"y":{"datum":0.017,"type":"quantitative"},"y2":{"datum":2.27}}},
  {"data":{"name":"D"},"transform":[{"filter":"datum.k!='N'"}],"mark":{"type":"boxplot","extent":1.5,"size":12,"outliers":false,"box":{"fill":"white","stroke":"black","strokeWidth":1.1},"median":{"color":"black","thickness":3},"rule":{"color":"black","strokeWidth":1.1},"ticks":{"color":"black","size":6}},
   "encoding":{"x":{"field":"g","type":"nominal","scale":{"type":"band","domain":["1a","1F","1b","1M","1c","2a","2F","2b","2M","2c","3a","3F","3b","3M","3c","4a","4F","4b","4M","4c"],"paddingInner":0,"paddingOuter":0},"axis":{"title":null,"ticks":false,"domain":false,"labelAngle":0,"labelFontSize":10,"labelPadding":5,"labelOverlap":false,"labelColor":"#222","labelExpr":"datum.value=='1b'?'Post−2nd':datum.value=='2b'?'Post−3rd':datum.value=='3b'?'Post−4th':datum.value=='4b'?'13 months':''"}},
    "y":{"field":"v","type":"quantitative","scale":{"type":"log","domain":[0.017,2.27],"nice":false},"axis":{"title":null,"values":[0.02,0.025,0.03,0.04,0.05,0.06,0.07,0.08,0.09,0.1,0.2,0.3,0.4,0.5,0.6,0.7,0.8,0.9,1],"labelExpr":"datum.value==1?'1.0':datum.value==0.5?'0.5':datum.value==0.1?'0.1':datum.value==0.05?'0.05':datum.value==0.025?'<0.025':''","labelFontSize":8.5,"labelColor":"#333","tickSize":5,"tickColor":"#222","labelPadding":2,"labelOverlap":false}}}},
  {"data":{"name":"D"},"mark":{"type":"point","filled":true,"strokeWidth":1,"opacity":1},
   "encoding":{"x":{"field":"g","type":"nominal","scale":{"type":"band","domain":["1a","1F","1b","1M","1c","2a","2F","2b","2M","2c","3a","3F","3b","3M","3c","4a","4F","4b","4M","4c"],"paddingInner":0,"paddingOuter":0},"axis":null},
    "y":{"field":"v","type":"quantitative","scale":{"type":"log","domain":[0.017,2.27],"nice":false}},
    "xOffset":{"field":"i","type":"ordinal","scale":{"domain":[1,2,3,4,5,6,7,8,9,10,11,12,13,14,15,16,17,18,19,20,21,22,23,24,25,26,27,28,29,30],"range":[-3.5,15]}},
    "fill":{"field":"k","type":"nominal","scale":{"domain":["F","M","N"],"range":["#ee1111","#1111dd","transparent"]}},
    "stroke":{"field":"k","type":"nominal","scale":{"domain":["F","M","N"],"range":["#ee1111","#1111dd","#7f7f7f"]}},
    "shape":{"field":"k","type":"nominal","scale":{"domain":["F","M","N"],"range":["circle","circle","triangle-up"]}},
    "size":{"field":"k","type":"ordinal","scale":{"domain":["F","M","N"],"range":[20,20,30]}},
    "order":{"field":"k","type":"ordinal","sort":"descending"}}},
  {"data":{"name":"L"},"transform":[{"filter":"datum.p=='D'&&indexof(datum.g,'F')>=0"}],"mark":{"type":"text","fontSize":9.5,"lineBreak":"|","baseline":"top","lineHeight":11,"color":"#333","dx":-3},"encoding":{"x":{"field":"g","type":"nominal","scale":{"type":"band","domain":["1a","1F","1b","1M","1c","2a","2F","2b","2M","2c","3a","3F","3b","3M","3c","4a","4F","4b","4M","4c"],"paddingInner":0,"paddingOuter":0},"axis":null},"y":{"datum":2.15,"type":"quantitative"},"text":{"field":"t"}}},
  {"data":{"name":"L"},"transform":[{"filter":"datum.p=='D'&&indexof(datum.g,'M')>=0"}],"mark":{"type":"text","fontSize":9.5,"lineBreak":"|","baseline":"top","lineHeight":11,"color":"#333","dx":3},"encoding":{"x":{"field":"g","type":"nominal","scale":{"type":"band","domain":["1a","1F","1b","1M","1c","2a","2F","2b","2M","2c","3a","3F","3b","3M","3c","4a","4F","4b","4M","4c"],"paddingInner":0,"paddingOuter":0},"axis":null},"y":{"datum":2.15,"type":"quantitative"},"text":{"field":"t"}}},
  {"data":{"values":[{}]},"mark":{"type":"text","text":"D","fontSize":17,"fontWeight":"bold","baseline":"middle","color":"black"},"encoding":{"x":{"datum":-0.064,"type":"quantitative","scale":{"domain":[0,1]},"axis":null},"y":{"datum":3.6,"type":"quantitative"}}},
  {"data":{"values":[{}]},"mark":{"type":"text","text":"Env","fontSize":16.5,"fontWeight":"bold","baseline":"middle","color":"black"},"encoding":{"x":{"datum":0.5,"type":"quantitative","scale":{"domain":[0,1]},"axis":null},"y":{"datum":3.6,"type":"quantitative"}}},
  {"data":{"values":[{}]},"mark":{"type":"text","text":"CD8+ T−cells producing IFN−γ or IL−2 (%)","angle":270,"fontSize":16,"fontWeight":"bold","baseline":"middle","align":"center","color":"black"},"encoding":{"x":{"datum":-0.247,"type":"quantitative","scale":{"domain":[0,1]},"axis":null},"y":{"datum":0.1964,"type":"quantitative"}}}
 ]},
{"width":231,"height":160,"resolve":{"scale":{"x":"independent"}},
 "layer":[
  {"data":{"values":[{"g":"2a"},{"g":"3a"},{"g":"4a"}]},"mark":{"type":"rule","strokeDash":[5,4],"strokeWidth":1.3,"color":"black"},"encoding":{"x":{"field":"g","type":"nominal","bandPosition":0,"scale":{"type":"band","domain":["1a","1F","1b","1M","1c","2a","2F","2b","2M","2c","3a","3F","3b","3M","3c","4a","4F","4b","4M","4c"],"paddingInner":0,"paddingOuter":0},"axis":null},"y":{"datum":0.017,"type":"quantitative"},"y2":{"datum":2.27}}},
  {"data":{"name":"E"},"transform":[{"filter":"datum.k!='N'"}],"mark":{"type":"boxplot","extent":1.5,"size":12,"outliers":false,"box":{"fill":"white","stroke":"black","strokeWidth":1.1},"median":{"color":"black","thickness":3},"rule":{"color":"black","strokeWidth":1.1},"ticks":{"color":"black","size":6}},
   "encoding":{"x":{"field":"g","type":"nominal","scale":{"type":"band","domain":["1a","1F","1b","1M","1c","2a","2F","2b","2M","2c","3a","3F","3b","3M","3c","4a","4F","4b","4M","4c"],"paddingInner":0,"paddingOuter":0},"axis":{"title":null,"ticks":false,"domain":false,"labelAngle":0,"labelFontSize":10,"labelPadding":5,"labelOverlap":false,"labelColor":"#222","labelExpr":"datum.value=='1b'?'Post−2nd':datum.value=='2b'?'Post−3rd':datum.value=='3b'?'Post−4th':datum.value=='4b'?'13 months':''"}},
    "y":{"field":"v","type":"quantitative","scale":{"type":"log","domain":[0.017,2.27],"nice":false},"axis":{"title":null,"values":[0.02,0.025,0.03,0.04,0.05,0.06,0.07,0.08,0.09,0.1,0.2,0.3,0.4,0.5,0.6,0.7,0.8,0.9,1],"labelExpr":"datum.value==1?'1.0':datum.value==0.5?'0.5':datum.value==0.1?'0.1':datum.value==0.05?'0.05':datum.value==0.025?'<0.025':''","labelFontSize":8.5,"labelColor":"#333","tickSize":5,"tickColor":"#222","labelPadding":2,"labelOverlap":false}}}},
  {"data":{"name":"E"},"mark":{"type":"point","filled":true,"strokeWidth":1,"opacity":1},
   "encoding":{"x":{"field":"g","type":"nominal","scale":{"type":"band","domain":["1a","1F","1b","1M","1c","2a","2F","2b","2M","2c","3a","3F","3b","3M","3c","4a","4F","4b","4M","4c"],"paddingInner":0,"paddingOuter":0},"axis":null},
    "y":{"field":"v","type":"quantitative","scale":{"type":"log","domain":[0.017,2.27],"nice":false}},
    "xOffset":{"field":"i","type":"ordinal","scale":{"domain":[1,2,3,4,5,6,7,8,9,10,11,12,13,14,15,16,17,18,19,20,21,22,23,24,25,26,27,28,29,30],"range":[-3.5,15]}},
    "fill":{"field":"k","type":"nominal","scale":{"domain":["F","M","N"],"range":["#ee1111","#1111dd","transparent"]}},
    "stroke":{"field":"k","type":"nominal","scale":{"domain":["F","M","N"],"range":["#ee1111","#1111dd","#7f7f7f"]}},
    "shape":{"field":"k","type":"nominal","scale":{"domain":["F","M","N"],"range":["circle","circle","triangle-up"]}},
    "size":{"field":"k","type":"ordinal","scale":{"domain":["F","M","N"],"range":[20,20,30]}},
    "order":{"field":"k","type":"ordinal","sort":"descending"}}},
  {"data":{"name":"L"},"transform":[{"filter":"datum.p=='E'&&indexof(datum.g,'F')>=0"}],"mark":{"type":"text","fontSize":9.5,"lineBreak":"|","baseline":"top","lineHeight":11,"color":"#333","dx":-3},"encoding":{"x":{"field":"g","type":"nominal","scale":{"type":"band","domain":["1a","1F","1b","1M","1c","2a","2F","2b","2M","2c","3a","3F","3b","3M","3c","4a","4F","4b","4M","4c"],"paddingInner":0,"paddingOuter":0},"axis":null},"y":{"datum":2.15,"type":"quantitative"},"text":{"field":"t"}}},
  {"data":{"name":"L"},"transform":[{"filter":"datum.p=='E'&&indexof(datum.g,'M')>=0"}],"mark":{"type":"text","fontSize":9.5,"lineBreak":"|","baseline":"top","lineHeight":11,"color":"#333","dx":3},"encoding":{"x":{"field":"g","type":"nominal","scale":{"type":"band","domain":["1a","1F","1b","1M","1c","2a","2F","2b","2M","2c","3a","3F","3b","3M","3c","4a","4F","4b","4M","4c"],"paddingInner":0,"paddingOuter":0},"axis":null},"y":{"datum":2.15,"type":"quantitative"},"text":{"field":"t"}}},
  {"data":{"values":[{}]},"mark":{"type":"text","text":"E","fontSize":17,"fontWeight":"bold","baseline":"middle","color":"black"},"encoding":{"x":{"datum":-0.06,"type":"quantitative","scale":{"domain":[0,1]},"axis":null},"y":{"datum":3.6,"type":"quantitative"}}},
  {"data":{"values":[{}]},"mark":{"type":"text","text":"Gag","fontSize":16.5,"fontWeight":"bold","baseline":"middle","color":"black"},"encoding":{"x":{"datum":0.5,"type":"quantitative","scale":{"domain":[0,1]},"axis":null},"y":{"datum":3.6,"type":"quantitative"}}}
 ]},
{"width":235,"height":160,"resolve":{"scale":{"x":"independent"}},
 "layer":[
  {"data":{"values":[{"g":"2a"},{"g":"3a"},{"g":"4a"}]},"mark":{"type":"rule","strokeDash":[5,4],"strokeWidth":1.3,"color":"black"},"encoding":{"x":{"field":"g","type":"nominal","bandPosition":0,"scale":{"type":"band","domain":["1a","1F","1b","1M","1c","2a","2F","2b","2M","2c","3a","3F","3b","3M","3c","4a","4F","4b","4M","4c"],"paddingInner":0,"paddingOuter":0},"axis":null},"y":{"datum":0.017,"type":"quantitative"},"y2":{"datum":2.27}}},
  {"data":{"name":"F"},"transform":[{"filter":"datum.k!='N'"}],"mark":{"type":"boxplot","extent":1.5,"size":12,"outliers":false,"box":{"fill":"white","stroke":"black","strokeWidth":1.1},"median":{"color":"black","thickness":3},"rule":{"color":"black","strokeWidth":1.1},"ticks":{"color":"black","size":6}},
   "encoding":{"x":{"field":"g","type":"nominal","scale":{"type":"band","domain":["1a","1F","1b","1M","1c","2a","2F","2b","2M","2c","3a","3F","3b","3M","3c","4a","4F","4b","4M","4c"],"paddingInner":0,"paddingOuter":0},"axis":{"title":null,"ticks":false,"domain":false,"labelAngle":0,"labelFontSize":10,"labelPadding":5,"labelOverlap":false,"labelColor":"#222","labelExpr":"datum.value=='1b'?'Post−2nd':datum.value=='2b'?'Post−3rd':datum.value=='3b'?'Post−4th':datum.value=='4b'?'13 months':''"}},
    "y":{"field":"v","type":"quantitative","scale":{"type":"log","domain":[0.017,2.27],"nice":false},"axis":{"title":null,"values":[0.02,0.025,0.03,0.04,0.05,0.06,0.07,0.08,0.09,0.1,0.2,0.3,0.4,0.5,0.6,0.7,0.8,0.9,1],"labelExpr":"datum.value==1?'1.0':datum.value==0.5?'0.5':datum.value==0.1?'0.1':datum.value==0.05?'0.05':datum.value==0.025?'<0.025':''","labelFontSize":8.5,"labelColor":"#333","tickSize":5,"tickColor":"#222","labelPadding":2,"labelOverlap":false}}}},
  {"data":{"name":"F"},"mark":{"type":"point","filled":true,"strokeWidth":1,"opacity":1},
   "encoding":{"x":{"field":"g","type":"nominal","scale":{"type":"band","domain":["1a","1F","1b","1M","1c","2a","2F","2b","2M","2c","3a","3F","3b","3M","3c","4a","4F","4b","4M","4c"],"paddingInner":0,"paddingOuter":0},"axis":null},
    "y":{"field":"v","type":"quantitative","scale":{"type":"log","domain":[0.017,2.27],"nice":false}},
    "xOffset":{"field":"i","type":"ordinal","scale":{"domain":[1,2,3,4,5,6,7,8,9,10,11,12,13,14,15,16,17,18,19,20,21,22,23,24,25,26,27,28,29,30],"range":[-3.5,15]}},
    "fill":{"field":"k","type":"nominal","scale":{"domain":["F","M","N"],"range":["#ee1111","#1111dd","transparent"]}},
    "stroke":{"field":"k","type":"nominal","scale":{"domain":["F","M","N"],"range":["#ee1111","#1111dd","#7f7f7f"]}},
    "shape":{"field":"k","type":"nominal","scale":{"domain":["F","M","N"],"range":["circle","circle","triangle-up"]}},
    "size":{"field":"k","type":"ordinal","scale":{"domain":["F","M","N"],"range":[20,20,30]}},
    "order":{"field":"k","type":"ordinal","sort":"descending"}}},
  {"data":{"name":"L"},"transform":[{"filter":"datum.p=='F'&&indexof(datum.g,'F')>=0"}],"mark":{"type":"text","fontSize":9.5,"lineBreak":"|","baseline":"top","lineHeight":11,"color":"#333","dx":-3},"encoding":{"x":{"field":"g","type":"nominal","scale":{"type":"band","domain":["1a","1F","1b","1M","1c","2a","2F","2b","2M","2c","3a","3F","3b","3M","3c","4a","4F","4b","4M","4c"],"paddingInner":0,"paddingOuter":0},"axis":null},"y":{"datum":2.15,"type":"quantitative"},"text":{"field":"t"}}},
  {"data":{"name":"L"},"transform":[{"filter":"datum.p=='F'&&indexof(datum.g,'M')>=0"}],"mark":{"type":"text","fontSize":9.5,"lineBreak":"|","baseline":"top","lineHeight":11,"color":"#333","dx":3},"encoding":{"x":{"field":"g","type":"nominal","scale":{"type":"band","domain":["1a","1F","1b","1M","1c","2a","2F","2b","2M","2c","3a","3F","3b","3M","3c","4a","4F","4b","4M","4c"],"paddingInner":0,"paddingOuter":0},"axis":null},"y":{"datum":2.15,"type":"quantitative"},"text":{"field":"t"}}},
  {"data":{"values":[{}]},"mark":{"type":"text","text":"F","fontSize":17,"fontWeight":"bold","baseline":"middle","color":"black"},"encoding":{"x":{"datum":-0.009,"type":"quantitative","scale":{"domain":[0,1]},"axis":null},"y":{"datum":3.6,"type":"quantitative"}}},
  {"data":{"values":[{}]},"mark":{"type":"text","text":"Gag","fontSize":16.5,"fontWeight":"bold","baseline":"middle","color":"black"},"encoding":{"x":{"datum":0.5,"type":"quantitative","scale":{"domain":[0,1]},"axis":null},"y":{"datum":3.6,"type":"quantitative"}}}
 ]}
],
"config":{"font":"Liberation Sans","view":{"stroke":"black","strokeWidth":1.3},"axis":{"grid":false,"domain":false}}
}
